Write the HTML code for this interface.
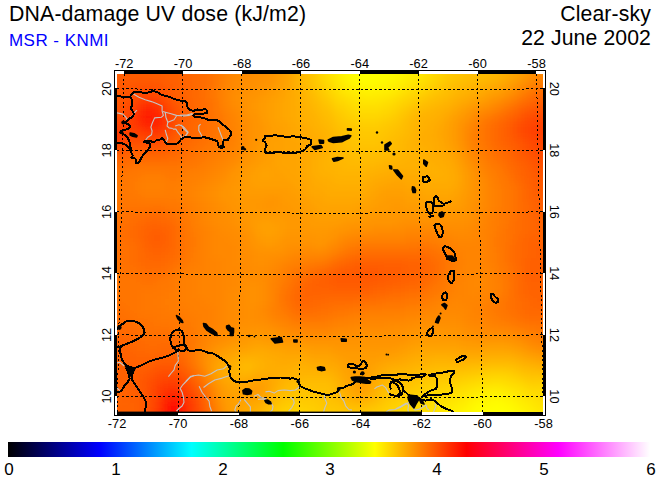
<!DOCTYPE html>
<html><head><meta charset="utf-8"><title>DNA-damage UV dose</title>
<style>
html,body{margin:0;padding:0;background:#fff;}
body{width:660px;height:480px;overflow:hidden;font-family:"Liberation Sans",sans-serif;}
svg{display:block;font-family:"Liberation Sans",sans-serif;}
</style></head><body>
<svg width="660" height="480" viewBox="0 0 660 480">
<rect width="660" height="480" fill="#fff"/>
<defs><clipPath id="mapclip"><rect x="117" y="74" width="426" height="338"/></clipPath></defs>
<g clip-path="url(#mapclip)">
<defs><filter id="blur" x="-5%" y="-5%" width="110%" height="110%"><feGaussianBlur stdDeviation="4.5"/></filter></defs><rect x="87" y="44" width="486" height="398" fill="#ff8800"/><g filter="url(#blur)" shape-rendering="crispEdges"><rect x="101" y="58" width="49" height="9" fill="#ff5c00"/><rect x="149" y="58" width="33" height="9" fill="#ff6000"/><rect x="181" y="58" width="9" height="9" fill="#ff6400"/><rect x="189" y="58" width="9" height="9" fill="#ff6800"/><rect x="197" y="58" width="9" height="9" fill="#ff6c00"/><rect x="205" y="58" width="9" height="9" fill="#ff7000"/><rect x="213" y="58" width="9" height="9" fill="#ff7800"/><rect x="221" y="58" width="9" height="9" fill="#ff8000"/><rect x="229" y="58" width="9" height="9" fill="#ff8800"/><rect x="237" y="58" width="17" height="9" fill="#ff8c00"/><rect x="253" y="58" width="17" height="9" fill="#ff9000"/><rect x="269" y="58" width="9" height="9" fill="#ff9400"/><rect x="277" y="58" width="9" height="9" fill="#ff9c00"/><rect x="285" y="58" width="9" height="9" fill="#ffa400"/><rect x="293" y="58" width="9" height="9" fill="#ffb000"/><rect x="301" y="58" width="9" height="9" fill="#ffbc00"/><rect x="309" y="58" width="9" height="9" fill="#ffc800"/><rect x="317" y="58" width="9" height="9" fill="#ffd400"/><rect x="325" y="58" width="9" height="9" fill="#ffe000"/><rect x="333" y="58" width="9" height="9" fill="#ffec00"/><rect x="341" y="58" width="9" height="9" fill="#fff800"/><rect x="349" y="58" width="9" height="9" fill="#fffc00"/><rect x="357" y="58" width="33" height="9" fill="#ffff00"/><rect x="389" y="58" width="9" height="9" fill="#fffc00"/><rect x="397" y="58" width="9" height="9" fill="#fff800"/><rect x="405" y="58" width="9" height="9" fill="#fff000"/><rect x="413" y="58" width="9" height="9" fill="#ffec00"/><rect x="421" y="58" width="9" height="9" fill="#ffe400"/><rect x="429" y="58" width="9" height="9" fill="#ffdc00"/><rect x="437" y="58" width="9" height="9" fill="#ffd400"/><rect x="445" y="58" width="9" height="9" fill="#ffcc00"/><rect x="453" y="58" width="9" height="9" fill="#ffc800"/><rect x="461" y="58" width="9" height="9" fill="#ffc400"/><rect x="469" y="58" width="17" height="9" fill="#ffc000"/><rect x="485" y="58" width="9" height="9" fill="#ffbc00"/><rect x="493" y="58" width="9" height="9" fill="#ffb800"/><rect x="501" y="58" width="9" height="9" fill="#ffb000"/><rect x="509" y="58" width="9" height="9" fill="#ffa800"/><rect x="517" y="58" width="9" height="9" fill="#ffa000"/><rect x="525" y="58" width="9" height="9" fill="#ff9800"/><rect x="533" y="58" width="9" height="9" fill="#ff8c00"/><rect x="541" y="58" width="25" height="9" fill="#ff8800"/><rect x="101" y="66" width="49" height="9" fill="#ff5c00"/><rect x="149" y="66" width="33" height="9" fill="#ff6000"/><rect x="181" y="66" width="9" height="9" fill="#ff6400"/><rect x="189" y="66" width="9" height="9" fill="#ff6800"/><rect x="197" y="66" width="9" height="9" fill="#ff6c00"/><rect x="205" y="66" width="9" height="9" fill="#ff7000"/><rect x="213" y="66" width="9" height="9" fill="#ff7800"/><rect x="221" y="66" width="9" height="9" fill="#ff8000"/><rect x="229" y="66" width="9" height="9" fill="#ff8800"/><rect x="237" y="66" width="17" height="9" fill="#ff8c00"/><rect x="253" y="66" width="17" height="9" fill="#ff9000"/><rect x="269" y="66" width="9" height="9" fill="#ff9400"/><rect x="277" y="66" width="9" height="9" fill="#ff9c00"/><rect x="285" y="66" width="9" height="9" fill="#ffa400"/><rect x="293" y="66" width="9" height="9" fill="#ffb000"/><rect x="301" y="66" width="9" height="9" fill="#ffbc00"/><rect x="309" y="66" width="9" height="9" fill="#ffc800"/><rect x="317" y="66" width="9" height="9" fill="#ffd400"/><rect x="325" y="66" width="9" height="9" fill="#ffe000"/><rect x="333" y="66" width="9" height="9" fill="#ffec00"/><rect x="341" y="66" width="9" height="9" fill="#fff800"/><rect x="349" y="66" width="9" height="9" fill="#fffc00"/><rect x="357" y="66" width="33" height="9" fill="#ffff00"/><rect x="389" y="66" width="9" height="9" fill="#fffc00"/><rect x="397" y="66" width="9" height="9" fill="#fff800"/><rect x="405" y="66" width="9" height="9" fill="#fff000"/><rect x="413" y="66" width="9" height="9" fill="#ffec00"/><rect x="421" y="66" width="9" height="9" fill="#ffe400"/><rect x="429" y="66" width="9" height="9" fill="#ffdc00"/><rect x="437" y="66" width="9" height="9" fill="#ffd400"/><rect x="445" y="66" width="9" height="9" fill="#ffcc00"/><rect x="453" y="66" width="9" height="9" fill="#ffc800"/><rect x="461" y="66" width="9" height="9" fill="#ffc400"/><rect x="469" y="66" width="17" height="9" fill="#ffc000"/><rect x="485" y="66" width="9" height="9" fill="#ffbc00"/><rect x="493" y="66" width="9" height="9" fill="#ffb800"/><rect x="501" y="66" width="9" height="9" fill="#ffb000"/><rect x="509" y="66" width="9" height="9" fill="#ffa800"/><rect x="517" y="66" width="9" height="9" fill="#ffa000"/><rect x="525" y="66" width="9" height="9" fill="#ff9800"/><rect x="533" y="66" width="9" height="9" fill="#ff8c00"/><rect x="541" y="66" width="25" height="9" fill="#ff8800"/><rect x="101" y="74" width="65" height="9" fill="#ff5c00"/><rect x="165" y="74" width="17" height="9" fill="#ff6000"/><rect x="181" y="74" width="9" height="9" fill="#ff6400"/><rect x="189" y="74" width="9" height="9" fill="#ff6800"/><rect x="197" y="74" width="9" height="9" fill="#ff6c00"/><rect x="205" y="74" width="9" height="9" fill="#ff7000"/><rect x="213" y="74" width="9" height="9" fill="#ff7800"/><rect x="221" y="74" width="9" height="9" fill="#ff8000"/><rect x="229" y="74" width="9" height="9" fill="#ff8800"/><rect x="237" y="74" width="17" height="9" fill="#ff8c00"/><rect x="253" y="74" width="17" height="9" fill="#ff9000"/><rect x="269" y="74" width="9" height="9" fill="#ff9400"/><rect x="277" y="74" width="9" height="9" fill="#ff9c00"/><rect x="285" y="74" width="9" height="9" fill="#ffa400"/><rect x="293" y="74" width="9" height="9" fill="#ffb000"/><rect x="301" y="74" width="9" height="9" fill="#ffbc00"/><rect x="309" y="74" width="9" height="9" fill="#ffc400"/><rect x="317" y="74" width="9" height="9" fill="#ffd400"/><rect x="325" y="74" width="9" height="9" fill="#ffe000"/><rect x="333" y="74" width="9" height="9" fill="#ffe800"/><rect x="341" y="74" width="9" height="9" fill="#fff400"/><rect x="349" y="74" width="9" height="9" fill="#fffc00"/><rect x="357" y="74" width="17" height="9" fill="#ffff00"/><rect x="373" y="74" width="17" height="9" fill="#fffc00"/><rect x="389" y="74" width="9" height="9" fill="#fff800"/><rect x="397" y="74" width="9" height="9" fill="#fff400"/><rect x="405" y="74" width="9" height="9" fill="#ffec00"/><rect x="413" y="74" width="9" height="9" fill="#ffe800"/><rect x="421" y="74" width="9" height="9" fill="#ffe000"/><rect x="429" y="74" width="9" height="9" fill="#ffd800"/><rect x="437" y="74" width="9" height="9" fill="#ffd000"/><rect x="445" y="74" width="9" height="9" fill="#ffc800"/><rect x="453" y="74" width="9" height="9" fill="#ffc400"/><rect x="461" y="74" width="9" height="9" fill="#ffc000"/><rect x="469" y="74" width="17" height="9" fill="#ffbc00"/><rect x="485" y="74" width="9" height="9" fill="#ffb800"/><rect x="493" y="74" width="9" height="9" fill="#ffb400"/><rect x="501" y="74" width="9" height="9" fill="#ffac00"/><rect x="509" y="74" width="9" height="9" fill="#ffa400"/><rect x="517" y="74" width="9" height="9" fill="#ff9c00"/><rect x="525" y="74" width="9" height="9" fill="#ff9000"/><rect x="533" y="74" width="9" height="9" fill="#ff8800"/><rect x="541" y="74" width="25" height="9" fill="#ff8000"/><rect x="101" y="82" width="33" height="9" fill="#ff5800"/><rect x="133" y="82" width="25" height="9" fill="#ff5400"/><rect x="157" y="82" width="9" height="9" fill="#ff5800"/><rect x="165" y="82" width="9" height="9" fill="#ff5c00"/><rect x="173" y="82" width="9" height="9" fill="#ff6000"/><rect x="181" y="82" width="9" height="9" fill="#ff6400"/><rect x="189" y="82" width="9" height="9" fill="#ff6800"/><rect x="197" y="82" width="9" height="9" fill="#ff6c00"/><rect x="205" y="82" width="9" height="9" fill="#ff7000"/><rect x="213" y="82" width="9" height="9" fill="#ff7800"/><rect x="221" y="82" width="9" height="9" fill="#ff8400"/><rect x="229" y="82" width="9" height="9" fill="#ff8800"/><rect x="237" y="82" width="9" height="9" fill="#ff8c00"/><rect x="245" y="82" width="17" height="9" fill="#ff9000"/><rect x="261" y="82" width="9" height="9" fill="#ff9400"/><rect x="269" y="82" width="9" height="9" fill="#ff9800"/><rect x="277" y="82" width="9" height="9" fill="#ffa000"/><rect x="285" y="82" width="9" height="9" fill="#ffa400"/><rect x="293" y="82" width="9" height="9" fill="#ffb000"/><rect x="301" y="82" width="9" height="9" fill="#ffb800"/><rect x="309" y="82" width="9" height="9" fill="#ffc400"/><rect x="317" y="82" width="9" height="9" fill="#ffcc00"/><rect x="325" y="82" width="9" height="9" fill="#ffd800"/><rect x="333" y="82" width="9" height="9" fill="#ffe400"/><rect x="341" y="82" width="9" height="9" fill="#ffec00"/><rect x="349" y="82" width="9" height="9" fill="#fff400"/><rect x="357" y="82" width="25" height="9" fill="#fff800"/><rect x="381" y="82" width="9" height="9" fill="#fff400"/><rect x="389" y="82" width="9" height="9" fill="#fff000"/><rect x="397" y="82" width="9" height="9" fill="#ffec00"/><rect x="405" y="82" width="9" height="9" fill="#ffe400"/><rect x="413" y="82" width="9" height="9" fill="#ffe000"/><rect x="421" y="82" width="9" height="9" fill="#ffd800"/><rect x="429" y="82" width="9" height="9" fill="#ffd000"/><rect x="437" y="82" width="9" height="9" fill="#ffc800"/><rect x="445" y="82" width="9" height="9" fill="#ffc000"/><rect x="453" y="82" width="9" height="9" fill="#ffbc00"/><rect x="461" y="82" width="9" height="9" fill="#ffb800"/><rect x="469" y="82" width="9" height="9" fill="#ffb400"/><rect x="477" y="82" width="9" height="9" fill="#ffb000"/><rect x="485" y="82" width="9" height="9" fill="#ffac00"/><rect x="493" y="82" width="9" height="9" fill="#ffa800"/><rect x="501" y="82" width="9" height="9" fill="#ffa000"/><rect x="509" y="82" width="9" height="9" fill="#ff9800"/><rect x="517" y="82" width="9" height="9" fill="#ff8c00"/><rect x="525" y="82" width="9" height="9" fill="#ff8400"/><rect x="533" y="82" width="9" height="9" fill="#ff7c00"/><rect x="541" y="82" width="25" height="9" fill="#ff7400"/><rect x="101" y="90" width="25" height="9" fill="#ff5800"/><rect x="125" y="90" width="9" height="9" fill="#ff5400"/><rect x="133" y="90" width="9" height="9" fill="#ff4c00"/><rect x="141" y="90" width="17" height="9" fill="#ff4800"/><rect x="157" y="90" width="9" height="9" fill="#ff5000"/><rect x="165" y="90" width="9" height="9" fill="#ff5800"/><rect x="173" y="90" width="9" height="9" fill="#ff6000"/><rect x="181" y="90" width="9" height="9" fill="#ff6400"/><rect x="189" y="90" width="9" height="9" fill="#ff6800"/><rect x="197" y="90" width="9" height="9" fill="#ff6c00"/><rect x="205" y="90" width="9" height="9" fill="#ff7400"/><rect x="213" y="90" width="9" height="9" fill="#ff7c00"/><rect x="221" y="90" width="9" height="9" fill="#ff8400"/><rect x="229" y="90" width="9" height="9" fill="#ff8c00"/><rect x="237" y="90" width="17" height="9" fill="#ff9000"/><rect x="253" y="90" width="9" height="9" fill="#ff9400"/><rect x="261" y="90" width="9" height="9" fill="#ff9800"/><rect x="269" y="90" width="9" height="9" fill="#ff9c00"/><rect x="277" y="90" width="9" height="9" fill="#ffa000"/><rect x="285" y="90" width="9" height="9" fill="#ffa800"/><rect x="293" y="90" width="9" height="9" fill="#ffac00"/><rect x="301" y="90" width="9" height="9" fill="#ffb400"/><rect x="309" y="90" width="9" height="9" fill="#ffbc00"/><rect x="317" y="90" width="9" height="9" fill="#ffc800"/><rect x="325" y="90" width="9" height="9" fill="#ffd000"/><rect x="333" y="90" width="9" height="9" fill="#ffdc00"/><rect x="341" y="90" width="9" height="9" fill="#ffe400"/><rect x="349" y="90" width="9" height="9" fill="#ffe800"/><rect x="357" y="90" width="9" height="9" fill="#ffec00"/><rect x="365" y="90" width="9" height="9" fill="#fff000"/><rect x="373" y="90" width="17" height="9" fill="#ffec00"/><rect x="389" y="90" width="9" height="9" fill="#ffe800"/><rect x="397" y="90" width="9" height="9" fill="#ffe000"/><rect x="405" y="90" width="9" height="9" fill="#ffd800"/><rect x="413" y="90" width="9" height="9" fill="#ffd400"/><rect x="421" y="90" width="9" height="9" fill="#ffcc00"/><rect x="429" y="90" width="9" height="9" fill="#ffc400"/><rect x="437" y="90" width="9" height="9" fill="#ffc000"/><rect x="445" y="90" width="9" height="9" fill="#ffbc00"/><rect x="453" y="90" width="9" height="9" fill="#ffb400"/><rect x="461" y="90" width="9" height="9" fill="#ffb000"/><rect x="469" y="90" width="9" height="9" fill="#ffac00"/><rect x="477" y="90" width="9" height="9" fill="#ffa800"/><rect x="485" y="90" width="9" height="9" fill="#ffa000"/><rect x="493" y="90" width="9" height="9" fill="#ff9c00"/><rect x="501" y="90" width="9" height="9" fill="#ff9400"/><rect x="509" y="90" width="9" height="9" fill="#ff8c00"/><rect x="517" y="90" width="9" height="9" fill="#ff8000"/><rect x="525" y="90" width="9" height="9" fill="#ff7400"/><rect x="533" y="90" width="9" height="9" fill="#ff6c00"/><rect x="541" y="90" width="25" height="9" fill="#ff6800"/><rect x="101" y="98" width="17" height="9" fill="#ff5800"/><rect x="117" y="98" width="9" height="9" fill="#ff5400"/><rect x="125" y="98" width="9" height="9" fill="#ff5000"/><rect x="133" y="98" width="9" height="9" fill="#ff4400"/><rect x="141" y="98" width="17" height="9" fill="#ff3800"/><rect x="157" y="98" width="9" height="9" fill="#ff4000"/><rect x="165" y="98" width="9" height="9" fill="#ff5000"/><rect x="173" y="98" width="9" height="9" fill="#ff5c00"/><rect x="181" y="98" width="9" height="9" fill="#ff6000"/><rect x="189" y="98" width="9" height="9" fill="#ff6800"/><rect x="197" y="98" width="9" height="9" fill="#ff6c00"/><rect x="205" y="98" width="9" height="9" fill="#ff7000"/><rect x="213" y="98" width="9" height="9" fill="#ff7800"/><rect x="221" y="98" width="9" height="9" fill="#ff8400"/><rect x="229" y="98" width="9" height="9" fill="#ff8c00"/><rect x="237" y="98" width="9" height="9" fill="#ff9000"/><rect x="245" y="98" width="9" height="9" fill="#ff9400"/><rect x="253" y="98" width="9" height="9" fill="#ff9800"/><rect x="261" y="98" width="9" height="9" fill="#ff9c00"/><rect x="269" y="98" width="9" height="9" fill="#ffa000"/><rect x="277" y="98" width="9" height="9" fill="#ffa400"/><rect x="285" y="98" width="9" height="9" fill="#ffa800"/><rect x="293" y="98" width="9" height="9" fill="#ffac00"/><rect x="301" y="98" width="9" height="9" fill="#ffb400"/><rect x="309" y="98" width="9" height="9" fill="#ffb800"/><rect x="317" y="98" width="9" height="9" fill="#ffc000"/><rect x="325" y="98" width="9" height="9" fill="#ffc800"/><rect x="333" y="98" width="9" height="9" fill="#ffd400"/><rect x="341" y="98" width="9" height="9" fill="#ffd800"/><rect x="349" y="98" width="9" height="9" fill="#ffe000"/><rect x="357" y="98" width="25" height="9" fill="#ffe400"/><rect x="381" y="98" width="9" height="9" fill="#ffe000"/><rect x="389" y="98" width="9" height="9" fill="#ffdc00"/><rect x="397" y="98" width="9" height="9" fill="#ffd400"/><rect x="405" y="98" width="9" height="9" fill="#ffd000"/><rect x="413" y="98" width="9" height="9" fill="#ffc800"/><rect x="421" y="98" width="9" height="9" fill="#ffc000"/><rect x="429" y="98" width="9" height="9" fill="#ffbc00"/><rect x="437" y="98" width="9" height="9" fill="#ffb800"/><rect x="445" y="98" width="9" height="9" fill="#ffb400"/><rect x="453" y="98" width="9" height="9" fill="#ffac00"/><rect x="461" y="98" width="9" height="9" fill="#ffa800"/><rect x="469" y="98" width="9" height="9" fill="#ffa000"/><rect x="477" y="98" width="9" height="9" fill="#ff9c00"/><rect x="485" y="98" width="9" height="9" fill="#ff9400"/><rect x="493" y="98" width="9" height="9" fill="#ff8c00"/><rect x="501" y="98" width="9" height="9" fill="#ff8400"/><rect x="509" y="98" width="9" height="9" fill="#ff7c00"/><rect x="517" y="98" width="9" height="9" fill="#ff7000"/><rect x="525" y="98" width="9" height="9" fill="#ff6800"/><rect x="533" y="98" width="9" height="9" fill="#ff6000"/><rect x="541" y="98" width="25" height="9" fill="#ff5c00"/><rect x="101" y="106" width="17" height="9" fill="#ff5400"/><rect x="117" y="106" width="9" height="9" fill="#ff5000"/><rect x="125" y="106" width="9" height="9" fill="#ff4800"/><rect x="133" y="106" width="9" height="9" fill="#ff3400"/><rect x="141" y="106" width="17" height="9" fill="#ff2400"/><rect x="157" y="106" width="9" height="9" fill="#ff3000"/><rect x="165" y="106" width="9" height="9" fill="#ff4400"/><rect x="173" y="106" width="9" height="9" fill="#ff5400"/><rect x="181" y="106" width="9" height="9" fill="#ff6000"/><rect x="189" y="106" width="9" height="9" fill="#ff6400"/><rect x="197" y="106" width="9" height="9" fill="#ff6c00"/><rect x="205" y="106" width="9" height="9" fill="#ff7000"/><rect x="213" y="106" width="9" height="9" fill="#ff7800"/><rect x="221" y="106" width="9" height="9" fill="#ff8000"/><rect x="229" y="106" width="9" height="9" fill="#ff8800"/><rect x="237" y="106" width="9" height="9" fill="#ff8c00"/><rect x="245" y="106" width="9" height="9" fill="#ff9400"/><rect x="253" y="106" width="9" height="9" fill="#ff9800"/><rect x="261" y="106" width="9" height="9" fill="#ff9c00"/><rect x="269" y="106" width="9" height="9" fill="#ffa000"/><rect x="277" y="106" width="9" height="9" fill="#ffa400"/><rect x="285" y="106" width="9" height="9" fill="#ffa800"/><rect x="293" y="106" width="9" height="9" fill="#ffac00"/><rect x="301" y="106" width="9" height="9" fill="#ffb000"/><rect x="309" y="106" width="9" height="9" fill="#ffb400"/><rect x="317" y="106" width="9" height="9" fill="#ffbc00"/><rect x="325" y="106" width="9" height="9" fill="#ffc000"/><rect x="333" y="106" width="9" height="9" fill="#ffcc00"/><rect x="341" y="106" width="9" height="9" fill="#ffd000"/><rect x="349" y="106" width="9" height="9" fill="#ffd800"/><rect x="357" y="106" width="25" height="9" fill="#ffdc00"/><rect x="381" y="106" width="9" height="9" fill="#ffd800"/><rect x="389" y="106" width="9" height="9" fill="#ffd400"/><rect x="397" y="106" width="9" height="9" fill="#ffcc00"/><rect x="405" y="106" width="9" height="9" fill="#ffc400"/><rect x="413" y="106" width="9" height="9" fill="#ffbc00"/><rect x="421" y="106" width="9" height="9" fill="#ffb800"/><rect x="429" y="106" width="9" height="9" fill="#ffb400"/><rect x="437" y="106" width="9" height="9" fill="#ffb000"/><rect x="445" y="106" width="9" height="9" fill="#ffac00"/><rect x="453" y="106" width="9" height="9" fill="#ffa400"/><rect x="461" y="106" width="9" height="9" fill="#ff9c00"/><rect x="469" y="106" width="9" height="9" fill="#ff9400"/><rect x="477" y="106" width="9" height="9" fill="#ff8c00"/><rect x="485" y="106" width="9" height="9" fill="#ff8800"/><rect x="493" y="106" width="9" height="9" fill="#ff8000"/><rect x="501" y="106" width="9" height="9" fill="#ff7400"/><rect x="509" y="106" width="9" height="9" fill="#ff6c00"/><rect x="517" y="106" width="9" height="9" fill="#ff6000"/><rect x="525" y="106" width="9" height="9" fill="#ff5800"/><rect x="533" y="106" width="9" height="9" fill="#ff5400"/><rect x="541" y="106" width="25" height="9" fill="#ff5000"/><rect x="101" y="114" width="25" height="9" fill="#ff4c00"/><rect x="125" y="114" width="9" height="9" fill="#ff4000"/><rect x="133" y="114" width="9" height="9" fill="#ff3000"/><rect x="141" y="114" width="9" height="9" fill="#ff1c00"/><rect x="149" y="114" width="9" height="9" fill="#ff1800"/><rect x="157" y="114" width="9" height="9" fill="#ff2800"/><rect x="165" y="114" width="9" height="9" fill="#ff4000"/><rect x="173" y="114" width="9" height="9" fill="#ff5000"/><rect x="181" y="114" width="9" height="9" fill="#ff6000"/><rect x="189" y="114" width="9" height="9" fill="#ff6400"/><rect x="197" y="114" width="9" height="9" fill="#ff6800"/><rect x="205" y="114" width="9" height="9" fill="#ff7000"/><rect x="213" y="114" width="9" height="9" fill="#ff7400"/><rect x="221" y="114" width="9" height="9" fill="#ff7c00"/><rect x="229" y="114" width="9" height="9" fill="#ff8400"/><rect x="237" y="114" width="9" height="9" fill="#ff8c00"/><rect x="245" y="114" width="9" height="9" fill="#ff9000"/><rect x="253" y="114" width="9" height="9" fill="#ff9400"/><rect x="261" y="114" width="9" height="9" fill="#ff9c00"/><rect x="269" y="114" width="9" height="9" fill="#ffa000"/><rect x="277" y="114" width="9" height="9" fill="#ffa400"/><rect x="285" y="114" width="9" height="9" fill="#ffa800"/><rect x="293" y="114" width="9" height="9" fill="#ffac00"/><rect x="301" y="114" width="17" height="9" fill="#ffb000"/><rect x="317" y="114" width="9" height="9" fill="#ffb800"/><rect x="325" y="114" width="9" height="9" fill="#ffbc00"/><rect x="333" y="114" width="9" height="9" fill="#ffc400"/><rect x="341" y="114" width="9" height="9" fill="#ffcc00"/><rect x="349" y="114" width="9" height="9" fill="#ffd000"/><rect x="357" y="114" width="25" height="9" fill="#ffd400"/><rect x="381" y="114" width="9" height="9" fill="#ffd000"/><rect x="389" y="114" width="9" height="9" fill="#ffcc00"/><rect x="397" y="114" width="9" height="9" fill="#ffc400"/><rect x="405" y="114" width="9" height="9" fill="#ffbc00"/><rect x="413" y="114" width="9" height="9" fill="#ffb400"/><rect x="421" y="114" width="17" height="9" fill="#ffb000"/><rect x="437" y="114" width="9" height="9" fill="#ffac00"/><rect x="445" y="114" width="9" height="9" fill="#ffa400"/><rect x="453" y="114" width="9" height="9" fill="#ff9c00"/><rect x="461" y="114" width="9" height="9" fill="#ff9400"/><rect x="469" y="114" width="9" height="9" fill="#ff8c00"/><rect x="477" y="114" width="9" height="9" fill="#ff8000"/><rect x="485" y="114" width="9" height="9" fill="#ff7800"/><rect x="493" y="114" width="9" height="9" fill="#ff7000"/><rect x="501" y="114" width="9" height="9" fill="#ff6800"/><rect x="509" y="114" width="9" height="9" fill="#ff6000"/><rect x="517" y="114" width="9" height="9" fill="#ff5400"/><rect x="525" y="114" width="9" height="9" fill="#ff4c00"/><rect x="533" y="114" width="9" height="9" fill="#ff4800"/><rect x="541" y="114" width="25" height="9" fill="#ff4400"/><rect x="101" y="122" width="33" height="9" fill="#ff4000"/><rect x="133" y="122" width="9" height="9" fill="#ff3400"/><rect x="141" y="122" width="9" height="9" fill="#ff2800"/><rect x="149" y="122" width="9" height="9" fill="#ff2400"/><rect x="157" y="122" width="9" height="9" fill="#ff2c00"/><rect x="165" y="122" width="9" height="9" fill="#ff4000"/><rect x="173" y="122" width="9" height="9" fill="#ff5400"/><rect x="181" y="122" width="9" height="9" fill="#ff6000"/><rect x="189" y="122" width="9" height="9" fill="#ff6800"/><rect x="197" y="122" width="9" height="9" fill="#ff6c00"/><rect x="205" y="122" width="9" height="9" fill="#ff7000"/><rect x="213" y="122" width="9" height="9" fill="#ff7400"/><rect x="221" y="122" width="9" height="9" fill="#ff7c00"/><rect x="229" y="122" width="9" height="9" fill="#ff8400"/><rect x="237" y="122" width="9" height="9" fill="#ff8800"/><rect x="245" y="122" width="9" height="9" fill="#ff9000"/><rect x="253" y="122" width="9" height="9" fill="#ff9400"/><rect x="261" y="122" width="9" height="9" fill="#ff9800"/><rect x="269" y="122" width="17" height="9" fill="#ffa000"/><rect x="285" y="122" width="9" height="9" fill="#ffa400"/><rect x="293" y="122" width="9" height="9" fill="#ffa800"/><rect x="301" y="122" width="9" height="9" fill="#ffac00"/><rect x="309" y="122" width="9" height="9" fill="#ffb000"/><rect x="317" y="122" width="9" height="9" fill="#ffb400"/><rect x="325" y="122" width="9" height="9" fill="#ffb800"/><rect x="333" y="122" width="9" height="9" fill="#ffc000"/><rect x="341" y="122" width="9" height="9" fill="#ffc400"/><rect x="349" y="122" width="9" height="9" fill="#ffc800"/><rect x="357" y="122" width="25" height="9" fill="#ffcc00"/><rect x="381" y="122" width="9" height="9" fill="#ffc800"/><rect x="389" y="122" width="9" height="9" fill="#ffc400"/><rect x="397" y="122" width="9" height="9" fill="#ffc000"/><rect x="405" y="122" width="9" height="9" fill="#ffb800"/><rect x="413" y="122" width="9" height="9" fill="#ffb400"/><rect x="421" y="122" width="9" height="9" fill="#ffb000"/><rect x="429" y="122" width="9" height="9" fill="#ffac00"/><rect x="437" y="122" width="9" height="9" fill="#ffa800"/><rect x="445" y="122" width="9" height="9" fill="#ffa000"/><rect x="453" y="122" width="9" height="9" fill="#ff9800"/><rect x="461" y="122" width="9" height="9" fill="#ff8c00"/><rect x="469" y="122" width="9" height="9" fill="#ff8400"/><rect x="477" y="122" width="9" height="9" fill="#ff7800"/><rect x="485" y="122" width="9" height="9" fill="#ff7000"/><rect x="493" y="122" width="9" height="9" fill="#ff6800"/><rect x="501" y="122" width="9" height="9" fill="#ff6000"/><rect x="509" y="122" width="9" height="9" fill="#ff5800"/><rect x="517" y="122" width="9" height="9" fill="#ff4c00"/><rect x="525" y="122" width="9" height="9" fill="#ff4400"/><rect x="533" y="122" width="33" height="9" fill="#ff4000"/><rect x="101" y="130" width="17" height="9" fill="#ff3800"/><rect x="117" y="130" width="9" height="9" fill="#ff3c00"/><rect x="125" y="130" width="17" height="9" fill="#ff4400"/><rect x="141" y="130" width="9" height="9" fill="#ff3c00"/><rect x="149" y="130" width="9" height="9" fill="#ff3800"/><rect x="157" y="130" width="9" height="9" fill="#ff3c00"/><rect x="165" y="130" width="9" height="9" fill="#ff4c00"/><rect x="173" y="130" width="9" height="9" fill="#ff5c00"/><rect x="181" y="130" width="9" height="9" fill="#ff6400"/><rect x="189" y="130" width="9" height="9" fill="#ff6800"/><rect x="197" y="130" width="9" height="9" fill="#ff6c00"/><rect x="205" y="130" width="9" height="9" fill="#ff7000"/><rect x="213" y="130" width="9" height="9" fill="#ff7400"/><rect x="221" y="130" width="9" height="9" fill="#ff7c00"/><rect x="229" y="130" width="9" height="9" fill="#ff8000"/><rect x="237" y="130" width="9" height="9" fill="#ff8800"/><rect x="245" y="130" width="9" height="9" fill="#ff9000"/><rect x="253" y="130" width="9" height="9" fill="#ff9400"/><rect x="261" y="130" width="9" height="9" fill="#ff9800"/><rect x="269" y="130" width="9" height="9" fill="#ff9c00"/><rect x="277" y="130" width="9" height="9" fill="#ffa000"/><rect x="285" y="130" width="9" height="9" fill="#ffa400"/><rect x="293" y="130" width="17" height="9" fill="#ffa800"/><rect x="309" y="130" width="9" height="9" fill="#ffac00"/><rect x="317" y="130" width="9" height="9" fill="#ffb000"/><rect x="325" y="130" width="9" height="9" fill="#ffb400"/><rect x="333" y="130" width="9" height="9" fill="#ffbc00"/><rect x="341" y="130" width="9" height="9" fill="#ffc000"/><rect x="349" y="130" width="9" height="9" fill="#ffc400"/><rect x="357" y="130" width="25" height="9" fill="#ffc800"/><rect x="381" y="130" width="9" height="9" fill="#ffc400"/><rect x="389" y="130" width="9" height="9" fill="#ffc000"/><rect x="397" y="130" width="9" height="9" fill="#ffbc00"/><rect x="405" y="130" width="9" height="9" fill="#ffb800"/><rect x="413" y="130" width="9" height="9" fill="#ffb000"/><rect x="421" y="130" width="17" height="9" fill="#ffac00"/><rect x="437" y="130" width="9" height="9" fill="#ffa400"/><rect x="445" y="130" width="9" height="9" fill="#ffa000"/><rect x="453" y="130" width="9" height="9" fill="#ff9800"/><rect x="461" y="130" width="9" height="9" fill="#ff8c00"/><rect x="469" y="130" width="9" height="9" fill="#ff8000"/><rect x="477" y="130" width="9" height="9" fill="#ff7800"/><rect x="485" y="130" width="9" height="9" fill="#ff7000"/><rect x="493" y="130" width="9" height="9" fill="#ff6800"/><rect x="501" y="130" width="9" height="9" fill="#ff6000"/><rect x="509" y="130" width="9" height="9" fill="#ff5800"/><rect x="517" y="130" width="9" height="9" fill="#ff4c00"/><rect x="525" y="130" width="9" height="9" fill="#ff4400"/><rect x="533" y="130" width="33" height="9" fill="#ff4000"/><rect x="101" y="138" width="17" height="9" fill="#ff3800"/><rect x="117" y="138" width="9" height="9" fill="#ff3c00"/><rect x="125" y="138" width="9" height="9" fill="#ff4c00"/><rect x="133" y="138" width="9" height="9" fill="#ff5000"/><rect x="141" y="138" width="17" height="9" fill="#ff4c00"/><rect x="157" y="138" width="9" height="9" fill="#ff5000"/><rect x="165" y="138" width="9" height="9" fill="#ff5800"/><rect x="173" y="138" width="9" height="9" fill="#ff6000"/><rect x="181" y="138" width="9" height="9" fill="#ff6800"/><rect x="189" y="138" width="9" height="9" fill="#ff6c00"/><rect x="197" y="138" width="9" height="9" fill="#ff7000"/><rect x="205" y="138" width="9" height="9" fill="#ff7400"/><rect x="213" y="138" width="9" height="9" fill="#ff7800"/><rect x="221" y="138" width="9" height="9" fill="#ff7c00"/><rect x="229" y="138" width="9" height="9" fill="#ff8000"/><rect x="237" y="138" width="9" height="9" fill="#ff8800"/><rect x="245" y="138" width="9" height="9" fill="#ff9000"/><rect x="253" y="138" width="9" height="9" fill="#ff9400"/><rect x="261" y="138" width="9" height="9" fill="#ff9c00"/><rect x="269" y="138" width="17" height="9" fill="#ffa000"/><rect x="285" y="138" width="17" height="9" fill="#ffa400"/><rect x="301" y="138" width="9" height="9" fill="#ffa800"/><rect x="309" y="138" width="17" height="9" fill="#ffac00"/><rect x="325" y="138" width="9" height="9" fill="#ffb400"/><rect x="333" y="138" width="9" height="9" fill="#ffb800"/><rect x="341" y="138" width="9" height="9" fill="#ffc000"/><rect x="349" y="138" width="33" height="9" fill="#ffc400"/><rect x="381" y="138" width="9" height="9" fill="#ffc000"/><rect x="389" y="138" width="9" height="9" fill="#ffbc00"/><rect x="397" y="138" width="9" height="9" fill="#ffb800"/><rect x="405" y="138" width="9" height="9" fill="#ffb400"/><rect x="413" y="138" width="9" height="9" fill="#ffb000"/><rect x="421" y="138" width="17" height="9" fill="#ffac00"/><rect x="437" y="138" width="9" height="9" fill="#ffa800"/><rect x="445" y="138" width="9" height="9" fill="#ffa000"/><rect x="453" y="138" width="9" height="9" fill="#ff9800"/><rect x="461" y="138" width="9" height="9" fill="#ff8c00"/><rect x="469" y="138" width="9" height="9" fill="#ff8000"/><rect x="477" y="138" width="9" height="9" fill="#ff7800"/><rect x="485" y="138" width="9" height="9" fill="#ff7000"/><rect x="493" y="138" width="9" height="9" fill="#ff6800"/><rect x="501" y="138" width="9" height="9" fill="#ff6000"/><rect x="509" y="138" width="9" height="9" fill="#ff5c00"/><rect x="517" y="138" width="9" height="9" fill="#ff5400"/><rect x="525" y="138" width="9" height="9" fill="#ff4c00"/><rect x="533" y="138" width="33" height="9" fill="#ff4400"/><rect x="101" y="146" width="17" height="9" fill="#ff5000"/><rect x="117" y="146" width="9" height="9" fill="#ff5400"/><rect x="125" y="146" width="41" height="9" fill="#ff5c00"/><rect x="165" y="146" width="9" height="9" fill="#ff6000"/><rect x="173" y="146" width="9" height="9" fill="#ff6800"/><rect x="181" y="146" width="9" height="9" fill="#ff6c00"/><rect x="189" y="146" width="9" height="9" fill="#ff7000"/><rect x="197" y="146" width="9" height="9" fill="#ff7400"/><rect x="205" y="146" width="9" height="9" fill="#ff7800"/><rect x="213" y="146" width="9" height="9" fill="#ff7c00"/><rect x="221" y="146" width="9" height="9" fill="#ff8000"/><rect x="229" y="146" width="9" height="9" fill="#ff8400"/><rect x="237" y="146" width="9" height="9" fill="#ff8800"/><rect x="245" y="146" width="9" height="9" fill="#ff9000"/><rect x="253" y="146" width="9" height="9" fill="#ff9800"/><rect x="261" y="146" width="9" height="9" fill="#ff9c00"/><rect x="269" y="146" width="17" height="9" fill="#ffa000"/><rect x="285" y="146" width="17" height="9" fill="#ffa400"/><rect x="301" y="146" width="17" height="9" fill="#ffa800"/><rect x="317" y="146" width="9" height="9" fill="#ffac00"/><rect x="325" y="146" width="9" height="9" fill="#ffb000"/><rect x="333" y="146" width="9" height="9" fill="#ffb800"/><rect x="341" y="146" width="9" height="9" fill="#ffbc00"/><rect x="349" y="146" width="33" height="9" fill="#ffc000"/><rect x="381" y="146" width="17" height="9" fill="#ffbc00"/><rect x="397" y="146" width="9" height="9" fill="#ffb800"/><rect x="405" y="146" width="9" height="9" fill="#ffb400"/><rect x="413" y="146" width="17" height="9" fill="#ffb000"/><rect x="429" y="146" width="9" height="9" fill="#ffac00"/><rect x="437" y="146" width="9" height="9" fill="#ffa800"/><rect x="445" y="146" width="9" height="9" fill="#ffa400"/><rect x="453" y="146" width="9" height="9" fill="#ff9c00"/><rect x="461" y="146" width="9" height="9" fill="#ff9000"/><rect x="469" y="146" width="9" height="9" fill="#ff8400"/><rect x="477" y="146" width="9" height="9" fill="#ff7c00"/><rect x="485" y="146" width="9" height="9" fill="#ff7400"/><rect x="493" y="146" width="9" height="9" fill="#ff6c00"/><rect x="501" y="146" width="9" height="9" fill="#ff6800"/><rect x="509" y="146" width="9" height="9" fill="#ff6000"/><rect x="517" y="146" width="9" height="9" fill="#ff5800"/><rect x="525" y="146" width="9" height="9" fill="#ff5000"/><rect x="533" y="146" width="9" height="9" fill="#ff4c00"/><rect x="541" y="146" width="25" height="9" fill="#ff4800"/><rect x="101" y="154" width="17" height="9" fill="#ff6000"/><rect x="117" y="154" width="9" height="9" fill="#ff6400"/><rect x="125" y="154" width="41" height="9" fill="#ff6800"/><rect x="165" y="154" width="17" height="9" fill="#ff6c00"/><rect x="181" y="154" width="9" height="9" fill="#ff7000"/><rect x="189" y="154" width="9" height="9" fill="#ff7400"/><rect x="197" y="154" width="9" height="9" fill="#ff7800"/><rect x="205" y="154" width="9" height="9" fill="#ff7c00"/><rect x="213" y="154" width="9" height="9" fill="#ff8000"/><rect x="221" y="154" width="9" height="9" fill="#ff8400"/><rect x="229" y="154" width="9" height="9" fill="#ff8800"/><rect x="237" y="154" width="9" height="9" fill="#ff8c00"/><rect x="245" y="154" width="9" height="9" fill="#ff9400"/><rect x="253" y="154" width="9" height="9" fill="#ff9800"/><rect x="261" y="154" width="9" height="9" fill="#ff9c00"/><rect x="269" y="154" width="9" height="9" fill="#ffa000"/><rect x="277" y="154" width="25" height="9" fill="#ffa400"/><rect x="301" y="154" width="9" height="9" fill="#ffa800"/><rect x="309" y="154" width="9" height="9" fill="#ffac00"/><rect x="317" y="154" width="9" height="9" fill="#ffb000"/><rect x="325" y="154" width="9" height="9" fill="#ffb400"/><rect x="333" y="154" width="17" height="9" fill="#ffb800"/><rect x="349" y="154" width="33" height="9" fill="#ffbc00"/><rect x="381" y="154" width="17" height="9" fill="#ffb800"/><rect x="397" y="154" width="9" height="9" fill="#ffb400"/><rect x="405" y="154" width="25" height="9" fill="#ffb000"/><rect x="429" y="154" width="17" height="9" fill="#ffac00"/><rect x="445" y="154" width="9" height="9" fill="#ffa800"/><rect x="453" y="154" width="9" height="9" fill="#ffa000"/><rect x="461" y="154" width="9" height="9" fill="#ff9400"/><rect x="469" y="154" width="9" height="9" fill="#ff8800"/><rect x="477" y="154" width="9" height="9" fill="#ff8000"/><rect x="485" y="154" width="9" height="9" fill="#ff7800"/><rect x="493" y="154" width="9" height="9" fill="#ff7000"/><rect x="501" y="154" width="9" height="9" fill="#ff6c00"/><rect x="509" y="154" width="9" height="9" fill="#ff6400"/><rect x="517" y="154" width="9" height="9" fill="#ff5c00"/><rect x="525" y="154" width="9" height="9" fill="#ff5800"/><rect x="533" y="154" width="9" height="9" fill="#ff5000"/><rect x="541" y="154" width="25" height="9" fill="#ff4c00"/><rect x="101" y="162" width="25" height="9" fill="#ff6c00"/><rect x="125" y="162" width="9" height="9" fill="#ff7000"/><rect x="133" y="162" width="49" height="9" fill="#ff7400"/><rect x="181" y="162" width="17" height="9" fill="#ff7800"/><rect x="197" y="162" width="9" height="9" fill="#ff7c00"/><rect x="205" y="162" width="9" height="9" fill="#ff8000"/><rect x="213" y="162" width="9" height="9" fill="#ff8400"/><rect x="221" y="162" width="9" height="9" fill="#ff8800"/><rect x="229" y="162" width="9" height="9" fill="#ff8c00"/><rect x="237" y="162" width="9" height="9" fill="#ff9400"/><rect x="245" y="162" width="9" height="9" fill="#ff9800"/><rect x="253" y="162" width="9" height="9" fill="#ff9c00"/><rect x="261" y="162" width="17" height="9" fill="#ffa000"/><rect x="277" y="162" width="25" height="9" fill="#ffa400"/><rect x="301" y="162" width="9" height="9" fill="#ffa800"/><rect x="309" y="162" width="9" height="9" fill="#ffac00"/><rect x="317" y="162" width="9" height="9" fill="#ffb000"/><rect x="325" y="162" width="17" height="9" fill="#ffb400"/><rect x="341" y="162" width="33" height="9" fill="#ffb800"/><rect x="373" y="162" width="17" height="9" fill="#ffb400"/><rect x="389" y="162" width="49" height="9" fill="#ffb000"/><rect x="437" y="162" width="17" height="9" fill="#ffac00"/><rect x="453" y="162" width="9" height="9" fill="#ffa400"/><rect x="461" y="162" width="9" height="9" fill="#ff9800"/><rect x="469" y="162" width="9" height="9" fill="#ff9000"/><rect x="477" y="162" width="9" height="9" fill="#ff8400"/><rect x="485" y="162" width="9" height="9" fill="#ff7c00"/><rect x="493" y="162" width="9" height="9" fill="#ff7800"/><rect x="501" y="162" width="9" height="9" fill="#ff7000"/><rect x="509" y="162" width="9" height="9" fill="#ff6800"/><rect x="517" y="162" width="9" height="9" fill="#ff6400"/><rect x="525" y="162" width="9" height="9" fill="#ff5c00"/><rect x="533" y="162" width="9" height="9" fill="#ff5400"/><rect x="541" y="162" width="25" height="9" fill="#ff5000"/><rect x="101" y="170" width="17" height="9" fill="#ff7000"/><rect x="117" y="170" width="9" height="9" fill="#ff7400"/><rect x="125" y="170" width="17" height="9" fill="#ff7800"/><rect x="141" y="170" width="25" height="9" fill="#ff7c00"/><rect x="165" y="170" width="17" height="9" fill="#ff7800"/><rect x="181" y="170" width="9" height="9" fill="#ff7c00"/><rect x="189" y="170" width="17" height="9" fill="#ff8000"/><rect x="205" y="170" width="9" height="9" fill="#ff8400"/><rect x="213" y="170" width="9" height="9" fill="#ff8800"/><rect x="221" y="170" width="9" height="9" fill="#ff8c00"/><rect x="229" y="170" width="9" height="9" fill="#ff9400"/><rect x="237" y="170" width="9" height="9" fill="#ff9800"/><rect x="245" y="170" width="9" height="9" fill="#ff9c00"/><rect x="253" y="170" width="9" height="9" fill="#ffa000"/><rect x="261" y="170" width="9" height="9" fill="#ffa400"/><rect x="269" y="170" width="17" height="9" fill="#ffa000"/><rect x="285" y="170" width="17" height="9" fill="#ffa400"/><rect x="301" y="170" width="9" height="9" fill="#ffa800"/><rect x="309" y="170" width="9" height="9" fill="#ffac00"/><rect x="317" y="170" width="17" height="9" fill="#ffb000"/><rect x="333" y="170" width="33" height="9" fill="#ffb400"/><rect x="365" y="170" width="17" height="9" fill="#ffb000"/><rect x="381" y="170" width="49" height="9" fill="#ffac00"/><rect x="429" y="170" width="17" height="9" fill="#ffb000"/><rect x="445" y="170" width="9" height="9" fill="#ffac00"/><rect x="453" y="170" width="9" height="9" fill="#ffa800"/><rect x="461" y="170" width="9" height="9" fill="#ff9c00"/><rect x="469" y="170" width="9" height="9" fill="#ff9400"/><rect x="477" y="170" width="9" height="9" fill="#ff8800"/><rect x="485" y="170" width="9" height="9" fill="#ff8000"/><rect x="493" y="170" width="9" height="9" fill="#ff7c00"/><rect x="501" y="170" width="9" height="9" fill="#ff7400"/><rect x="509" y="170" width="9" height="9" fill="#ff6c00"/><rect x="517" y="170" width="9" height="9" fill="#ff6400"/><rect x="525" y="170" width="9" height="9" fill="#ff6000"/><rect x="533" y="170" width="9" height="9" fill="#ff5800"/><rect x="541" y="170" width="25" height="9" fill="#ff5400"/><rect x="101" y="178" width="25" height="9" fill="#ff7400"/><rect x="125" y="178" width="9" height="9" fill="#ff7800"/><rect x="133" y="178" width="9" height="9" fill="#ff7c00"/><rect x="141" y="178" width="25" height="9" fill="#ff8000"/><rect x="165" y="178" width="17" height="9" fill="#ff7c00"/><rect x="181" y="178" width="17" height="9" fill="#ff8000"/><rect x="197" y="178" width="9" height="9" fill="#ff8400"/><rect x="205" y="178" width="9" height="9" fill="#ff8800"/><rect x="213" y="178" width="9" height="9" fill="#ff8c00"/><rect x="221" y="178" width="9" height="9" fill="#ff9000"/><rect x="229" y="178" width="9" height="9" fill="#ff9400"/><rect x="237" y="178" width="9" height="9" fill="#ff9800"/><rect x="245" y="178" width="9" height="9" fill="#ff9c00"/><rect x="253" y="178" width="41" height="9" fill="#ffa000"/><rect x="293" y="178" width="17" height="9" fill="#ffa400"/><rect x="309" y="178" width="9" height="9" fill="#ffa800"/><rect x="317" y="178" width="17" height="9" fill="#ffac00"/><rect x="333" y="178" width="33" height="9" fill="#ffb000"/><rect x="365" y="178" width="9" height="9" fill="#ffac00"/><rect x="373" y="178" width="17" height="9" fill="#ffa800"/><rect x="389" y="178" width="17" height="9" fill="#ffa400"/><rect x="405" y="178" width="17" height="9" fill="#ffa800"/><rect x="421" y="178" width="33" height="9" fill="#ffac00"/><rect x="453" y="178" width="9" height="9" fill="#ffa800"/><rect x="461" y="178" width="9" height="9" fill="#ff9c00"/><rect x="469" y="178" width="9" height="9" fill="#ff9400"/><rect x="477" y="178" width="9" height="9" fill="#ff8c00"/><rect x="485" y="178" width="9" height="9" fill="#ff8400"/><rect x="493" y="178" width="9" height="9" fill="#ff7c00"/><rect x="501" y="178" width="9" height="9" fill="#ff7800"/><rect x="509" y="178" width="9" height="9" fill="#ff7000"/><rect x="517" y="178" width="9" height="9" fill="#ff6800"/><rect x="525" y="178" width="9" height="9" fill="#ff6000"/><rect x="533" y="178" width="9" height="9" fill="#ff5c00"/><rect x="541" y="178" width="25" height="9" fill="#ff5800"/><rect x="101" y="186" width="17" height="9" fill="#ff7400"/><rect x="117" y="186" width="17" height="9" fill="#ff7800"/><rect x="133" y="186" width="9" height="9" fill="#ff7c00"/><rect x="141" y="186" width="25" height="9" fill="#ff8000"/><rect x="165" y="186" width="9" height="9" fill="#ff7c00"/><rect x="173" y="186" width="17" height="9" fill="#ff8000"/><rect x="189" y="186" width="9" height="9" fill="#ff8400"/><rect x="197" y="186" width="9" height="9" fill="#ff8800"/><rect x="205" y="186" width="9" height="9" fill="#ff8c00"/><rect x="213" y="186" width="9" height="9" fill="#ff9000"/><rect x="221" y="186" width="9" height="9" fill="#ff9400"/><rect x="229" y="186" width="17" height="9" fill="#ff9800"/><rect x="245" y="186" width="49" height="9" fill="#ff9c00"/><rect x="293" y="186" width="9" height="9" fill="#ffa000"/><rect x="301" y="186" width="9" height="9" fill="#ffa400"/><rect x="309" y="186" width="17" height="9" fill="#ffa800"/><rect x="325" y="186" width="41" height="9" fill="#ffac00"/><rect x="365" y="186" width="9" height="9" fill="#ffa800"/><rect x="373" y="186" width="9" height="9" fill="#ffa400"/><rect x="381" y="186" width="25" height="9" fill="#ffa000"/><rect x="405" y="186" width="17" height="9" fill="#ffa400"/><rect x="421" y="186" width="33" height="9" fill="#ffa800"/><rect x="453" y="186" width="9" height="9" fill="#ffa400"/><rect x="461" y="186" width="9" height="9" fill="#ff9c00"/><rect x="469" y="186" width="9" height="9" fill="#ff9400"/><rect x="477" y="186" width="9" height="9" fill="#ff8c00"/><rect x="485" y="186" width="9" height="9" fill="#ff8400"/><rect x="493" y="186" width="9" height="9" fill="#ff8000"/><rect x="501" y="186" width="9" height="9" fill="#ff7800"/><rect x="509" y="186" width="9" height="9" fill="#ff7400"/><rect x="517" y="186" width="9" height="9" fill="#ff6c00"/><rect x="525" y="186" width="9" height="9" fill="#ff6400"/><rect x="533" y="186" width="9" height="9" fill="#ff5c00"/><rect x="541" y="186" width="25" height="9" fill="#ff5800"/><rect x="101" y="194" width="25" height="9" fill="#ff7400"/><rect x="125" y="194" width="17" height="9" fill="#ff7800"/><rect x="141" y="194" width="41" height="9" fill="#ff7c00"/><rect x="181" y="194" width="9" height="9" fill="#ff8000"/><rect x="189" y="194" width="9" height="9" fill="#ff8400"/><rect x="197" y="194" width="9" height="9" fill="#ff8800"/><rect x="205" y="194" width="9" height="9" fill="#ff8c00"/><rect x="213" y="194" width="9" height="9" fill="#ff9000"/><rect x="221" y="194" width="17" height="9" fill="#ff9400"/><rect x="237" y="194" width="33" height="9" fill="#ff9800"/><rect x="269" y="194" width="9" height="9" fill="#ff9400"/><rect x="277" y="194" width="9" height="9" fill="#ff9800"/><rect x="285" y="194" width="17" height="9" fill="#ff9c00"/><rect x="301" y="194" width="9" height="9" fill="#ffa000"/><rect x="309" y="194" width="17" height="9" fill="#ffa400"/><rect x="325" y="194" width="41" height="9" fill="#ffa800"/><rect x="365" y="194" width="9" height="9" fill="#ffa400"/><rect x="373" y="194" width="9" height="9" fill="#ffa000"/><rect x="381" y="194" width="25" height="9" fill="#ff9c00"/><rect x="405" y="194" width="17" height="9" fill="#ffa000"/><rect x="421" y="194" width="33" height="9" fill="#ffa400"/><rect x="453" y="194" width="9" height="9" fill="#ffa000"/><rect x="461" y="194" width="9" height="9" fill="#ff9800"/><rect x="469" y="194" width="9" height="9" fill="#ff9400"/><rect x="477" y="194" width="9" height="9" fill="#ff8c00"/><rect x="485" y="194" width="9" height="9" fill="#ff8400"/><rect x="493" y="194" width="9" height="9" fill="#ff8000"/><rect x="501" y="194" width="9" height="9" fill="#ff7800"/><rect x="509" y="194" width="9" height="9" fill="#ff7400"/><rect x="517" y="194" width="9" height="9" fill="#ff6c00"/><rect x="525" y="194" width="9" height="9" fill="#ff6400"/><rect x="533" y="194" width="9" height="9" fill="#ff6000"/><rect x="541" y="194" width="25" height="9" fill="#ff5c00"/><rect x="101" y="202" width="65" height="9" fill="#ff7400"/><rect x="165" y="202" width="17" height="9" fill="#ff7800"/><rect x="181" y="202" width="9" height="9" fill="#ff7c00"/><rect x="189" y="202" width="9" height="9" fill="#ff8000"/><rect x="197" y="202" width="9" height="9" fill="#ff8400"/><rect x="205" y="202" width="9" height="9" fill="#ff8800"/><rect x="213" y="202" width="9" height="9" fill="#ff8c00"/><rect x="221" y="202" width="9" height="9" fill="#ff9000"/><rect x="229" y="202" width="9" height="9" fill="#ff9400"/><rect x="237" y="202" width="25" height="9" fill="#ff9800"/><rect x="261" y="202" width="17" height="9" fill="#ff9400"/><rect x="277" y="202" width="17" height="9" fill="#ff9800"/><rect x="293" y="202" width="17" height="9" fill="#ff9c00"/><rect x="309" y="202" width="9" height="9" fill="#ffa000"/><rect x="317" y="202" width="41" height="9" fill="#ffa400"/><rect x="357" y="202" width="17" height="9" fill="#ffa000"/><rect x="373" y="202" width="17" height="9" fill="#ff9c00"/><rect x="389" y="202" width="17" height="9" fill="#ff9800"/><rect x="405" y="202" width="33" height="9" fill="#ff9c00"/><rect x="437" y="202" width="9" height="9" fill="#ffa000"/><rect x="445" y="202" width="17" height="9" fill="#ff9c00"/><rect x="461" y="202" width="9" height="9" fill="#ff9800"/><rect x="469" y="202" width="9" height="9" fill="#ff9000"/><rect x="477" y="202" width="9" height="9" fill="#ff8c00"/><rect x="485" y="202" width="9" height="9" fill="#ff8400"/><rect x="493" y="202" width="9" height="9" fill="#ff8000"/><rect x="501" y="202" width="9" height="9" fill="#ff7800"/><rect x="509" y="202" width="9" height="9" fill="#ff7400"/><rect x="517" y="202" width="9" height="9" fill="#ff6c00"/><rect x="525" y="202" width="9" height="9" fill="#ff6800"/><rect x="533" y="202" width="9" height="9" fill="#ff6000"/><rect x="541" y="202" width="25" height="9" fill="#ff5c00"/><rect x="101" y="210" width="25" height="9" fill="#ff7400"/><rect x="125" y="210" width="25" height="9" fill="#ff7000"/><rect x="149" y="210" width="17" height="9" fill="#ff6c00"/><rect x="165" y="210" width="9" height="9" fill="#ff7000"/><rect x="173" y="210" width="9" height="9" fill="#ff7400"/><rect x="181" y="210" width="9" height="9" fill="#ff7800"/><rect x="189" y="210" width="9" height="9" fill="#ff8000"/><rect x="197" y="210" width="9" height="9" fill="#ff8400"/><rect x="205" y="210" width="9" height="9" fill="#ff8800"/><rect x="213" y="210" width="9" height="9" fill="#ff8c00"/><rect x="221" y="210" width="17" height="9" fill="#ff9000"/><rect x="237" y="210" width="9" height="9" fill="#ff9400"/><rect x="245" y="210" width="57" height="9" fill="#ff9800"/><rect x="301" y="210" width="17" height="9" fill="#ff9c00"/><rect x="317" y="210" width="41" height="9" fill="#ffa000"/><rect x="357" y="210" width="17" height="9" fill="#ff9c00"/><rect x="373" y="210" width="33" height="9" fill="#ff9800"/><rect x="405" y="210" width="9" height="9" fill="#ff9400"/><rect x="413" y="210" width="41" height="9" fill="#ff9800"/><rect x="453" y="210" width="17" height="9" fill="#ff9400"/><rect x="469" y="210" width="9" height="9" fill="#ff9000"/><rect x="477" y="210" width="9" height="9" fill="#ff8800"/><rect x="485" y="210" width="9" height="9" fill="#ff8400"/><rect x="493" y="210" width="9" height="9" fill="#ff7c00"/><rect x="501" y="210" width="9" height="9" fill="#ff7800"/><rect x="509" y="210" width="9" height="9" fill="#ff7400"/><rect x="517" y="210" width="9" height="9" fill="#ff6c00"/><rect x="525" y="210" width="9" height="9" fill="#ff6800"/><rect x="533" y="210" width="33" height="9" fill="#ff6000"/><rect x="101" y="218" width="33" height="9" fill="#ff7000"/><rect x="133" y="218" width="9" height="9" fill="#ff6c00"/><rect x="141" y="218" width="9" height="9" fill="#ff6800"/><rect x="149" y="218" width="9" height="9" fill="#ff6400"/><rect x="157" y="218" width="17" height="9" fill="#ff6800"/><rect x="173" y="218" width="9" height="9" fill="#ff7000"/><rect x="181" y="218" width="9" height="9" fill="#ff7800"/><rect x="189" y="218" width="9" height="9" fill="#ff7c00"/><rect x="197" y="218" width="9" height="9" fill="#ff8400"/><rect x="205" y="218" width="9" height="9" fill="#ff8800"/><rect x="213" y="218" width="17" height="9" fill="#ff8c00"/><rect x="229" y="218" width="9" height="9" fill="#ff9000"/><rect x="237" y="218" width="9" height="9" fill="#ff9400"/><rect x="245" y="218" width="9" height="9" fill="#ff9800"/><rect x="253" y="218" width="9" height="9" fill="#ff9c00"/><rect x="261" y="218" width="9" height="9" fill="#ffa000"/><rect x="269" y="218" width="17" height="9" fill="#ff9c00"/><rect x="285" y="218" width="25" height="9" fill="#ff9800"/><rect x="309" y="218" width="33" height="9" fill="#ff9c00"/><rect x="341" y="218" width="25" height="9" fill="#ff9800"/><rect x="365" y="218" width="33" height="9" fill="#ff9400"/><rect x="397" y="218" width="73" height="9" fill="#ff9000"/><rect x="469" y="218" width="9" height="9" fill="#ff8c00"/><rect x="477" y="218" width="9" height="9" fill="#ff8800"/><rect x="485" y="218" width="9" height="9" fill="#ff8000"/><rect x="493" y="218" width="9" height="9" fill="#ff7c00"/><rect x="501" y="218" width="9" height="9" fill="#ff7800"/><rect x="509" y="218" width="9" height="9" fill="#ff7000"/><rect x="517" y="218" width="9" height="9" fill="#ff6c00"/><rect x="525" y="218" width="9" height="9" fill="#ff6800"/><rect x="533" y="218" width="9" height="9" fill="#ff6400"/><rect x="541" y="218" width="25" height="9" fill="#ff6000"/><rect x="101" y="226" width="25" height="9" fill="#ff7000"/><rect x="125" y="226" width="9" height="9" fill="#ff6c00"/><rect x="133" y="226" width="9" height="9" fill="#ff6800"/><rect x="141" y="226" width="9" height="9" fill="#ff6400"/><rect x="149" y="226" width="17" height="9" fill="#ff6000"/><rect x="165" y="226" width="9" height="9" fill="#ff6400"/><rect x="173" y="226" width="9" height="9" fill="#ff6c00"/><rect x="181" y="226" width="9" height="9" fill="#ff7400"/><rect x="189" y="226" width="9" height="9" fill="#ff7c00"/><rect x="197" y="226" width="9" height="9" fill="#ff8000"/><rect x="205" y="226" width="9" height="9" fill="#ff8400"/><rect x="213" y="226" width="9" height="9" fill="#ff8800"/><rect x="221" y="226" width="17" height="9" fill="#ff8c00"/><rect x="237" y="226" width="9" height="9" fill="#ff9000"/><rect x="245" y="226" width="9" height="9" fill="#ff9400"/><rect x="253" y="226" width="9" height="9" fill="#ff9c00"/><rect x="261" y="226" width="17" height="9" fill="#ffa000"/><rect x="277" y="226" width="9" height="9" fill="#ff9c00"/><rect x="285" y="226" width="49" height="9" fill="#ff9800"/><rect x="333" y="226" width="17" height="9" fill="#ff9400"/><rect x="349" y="226" width="25" height="9" fill="#ff9000"/><rect x="373" y="226" width="33" height="9" fill="#ff8c00"/><rect x="405" y="226" width="41" height="9" fill="#ff8800"/><rect x="445" y="226" width="25" height="9" fill="#ff8c00"/><rect x="469" y="226" width="9" height="9" fill="#ff8800"/><rect x="477" y="226" width="9" height="9" fill="#ff8400"/><rect x="485" y="226" width="9" height="9" fill="#ff8000"/><rect x="493" y="226" width="9" height="9" fill="#ff7c00"/><rect x="501" y="226" width="9" height="9" fill="#ff7400"/><rect x="509" y="226" width="9" height="9" fill="#ff7000"/><rect x="517" y="226" width="9" height="9" fill="#ff6c00"/><rect x="525" y="226" width="9" height="9" fill="#ff6800"/><rect x="533" y="226" width="9" height="9" fill="#ff6400"/><rect x="541" y="226" width="25" height="9" fill="#ff6000"/><rect x="101" y="234" width="25" height="9" fill="#ff7000"/><rect x="125" y="234" width="9" height="9" fill="#ff6c00"/><rect x="133" y="234" width="9" height="9" fill="#ff6800"/><rect x="141" y="234" width="9" height="9" fill="#ff6400"/><rect x="149" y="234" width="17" height="9" fill="#ff5c00"/><rect x="165" y="234" width="9" height="9" fill="#ff6400"/><rect x="173" y="234" width="9" height="9" fill="#ff6c00"/><rect x="181" y="234" width="9" height="9" fill="#ff7400"/><rect x="189" y="234" width="9" height="9" fill="#ff7800"/><rect x="197" y="234" width="9" height="9" fill="#ff8000"/><rect x="205" y="234" width="9" height="9" fill="#ff8400"/><rect x="213" y="234" width="17" height="9" fill="#ff8800"/><rect x="229" y="234" width="17" height="9" fill="#ff8c00"/><rect x="245" y="234" width="9" height="9" fill="#ff9000"/><rect x="253" y="234" width="9" height="9" fill="#ff9800"/><rect x="261" y="234" width="17" height="9" fill="#ff9c00"/><rect x="277" y="234" width="9" height="9" fill="#ff9800"/><rect x="285" y="234" width="33" height="9" fill="#ff9400"/><rect x="317" y="234" width="9" height="9" fill="#ff9800"/><rect x="325" y="234" width="9" height="9" fill="#ff9400"/><rect x="333" y="234" width="9" height="9" fill="#ff9000"/><rect x="341" y="234" width="17" height="9" fill="#ff8800"/><rect x="357" y="234" width="49" height="9" fill="#ff8400"/><rect x="405" y="234" width="33" height="9" fill="#ff8000"/><rect x="437" y="234" width="17" height="9" fill="#ff8400"/><rect x="453" y="234" width="25" height="9" fill="#ff8800"/><rect x="477" y="234" width="9" height="9" fill="#ff8400"/><rect x="485" y="234" width="9" height="9" fill="#ff8000"/><rect x="493" y="234" width="9" height="9" fill="#ff7800"/><rect x="501" y="234" width="9" height="9" fill="#ff7400"/><rect x="509" y="234" width="9" height="9" fill="#ff7000"/><rect x="517" y="234" width="9" height="9" fill="#ff6800"/><rect x="525" y="234" width="17" height="9" fill="#ff6400"/><rect x="541" y="234" width="25" height="9" fill="#ff6000"/><rect x="101" y="242" width="33" height="9" fill="#ff7000"/><rect x="133" y="242" width="9" height="9" fill="#ff6c00"/><rect x="141" y="242" width="9" height="9" fill="#ff6400"/><rect x="149" y="242" width="17" height="9" fill="#ff6000"/><rect x="165" y="242" width="9" height="9" fill="#ff6400"/><rect x="173" y="242" width="9" height="9" fill="#ff6c00"/><rect x="181" y="242" width="9" height="9" fill="#ff7400"/><rect x="189" y="242" width="9" height="9" fill="#ff7800"/><rect x="197" y="242" width="9" height="9" fill="#ff8000"/><rect x="205" y="242" width="9" height="9" fill="#ff8400"/><rect x="213" y="242" width="25" height="9" fill="#ff8800"/><rect x="237" y="242" width="9" height="9" fill="#ff8c00"/><rect x="245" y="242" width="9" height="9" fill="#ff9000"/><rect x="253" y="242" width="9" height="9" fill="#ff9400"/><rect x="261" y="242" width="17" height="9" fill="#ff9800"/><rect x="277" y="242" width="9" height="9" fill="#ff9400"/><rect x="285" y="242" width="33" height="9" fill="#ff9000"/><rect x="317" y="242" width="9" height="9" fill="#ff9400"/><rect x="325" y="242" width="9" height="9" fill="#ff8c00"/><rect x="333" y="242" width="9" height="9" fill="#ff8800"/><rect x="341" y="242" width="9" height="9" fill="#ff8000"/><rect x="349" y="242" width="9" height="9" fill="#ff7c00"/><rect x="357" y="242" width="57" height="9" fill="#ff7800"/><rect x="413" y="242" width="17" height="9" fill="#ff7400"/><rect x="429" y="242" width="9" height="9" fill="#ff7800"/><rect x="437" y="242" width="9" height="9" fill="#ff7c00"/><rect x="445" y="242" width="9" height="9" fill="#ff8000"/><rect x="453" y="242" width="33" height="9" fill="#ff8400"/><rect x="485" y="242" width="9" height="9" fill="#ff8000"/><rect x="493" y="242" width="9" height="9" fill="#ff7800"/><rect x="501" y="242" width="9" height="9" fill="#ff7400"/><rect x="509" y="242" width="9" height="9" fill="#ff6c00"/><rect x="517" y="242" width="9" height="9" fill="#ff6800"/><rect x="525" y="242" width="9" height="9" fill="#ff6400"/><rect x="533" y="242" width="33" height="9" fill="#ff6000"/><rect x="101" y="250" width="33" height="9" fill="#ff7000"/><rect x="133" y="250" width="9" height="9" fill="#ff6c00"/><rect x="141" y="250" width="9" height="9" fill="#ff6800"/><rect x="149" y="250" width="17" height="9" fill="#ff6400"/><rect x="165" y="250" width="9" height="9" fill="#ff6800"/><rect x="173" y="250" width="9" height="9" fill="#ff6c00"/><rect x="181" y="250" width="9" height="9" fill="#ff7400"/><rect x="189" y="250" width="9" height="9" fill="#ff7c00"/><rect x="197" y="250" width="9" height="9" fill="#ff8000"/><rect x="205" y="250" width="9" height="9" fill="#ff8400"/><rect x="213" y="250" width="25" height="9" fill="#ff8800"/><rect x="237" y="250" width="17" height="9" fill="#ff8c00"/><rect x="253" y="250" width="33" height="9" fill="#ff9000"/><rect x="285" y="250" width="9" height="9" fill="#ff8c00"/><rect x="293" y="250" width="33" height="9" fill="#ff8800"/><rect x="325" y="250" width="9" height="9" fill="#ff8400"/><rect x="333" y="250" width="9" height="9" fill="#ff7c00"/><rect x="341" y="250" width="9" height="9" fill="#ff7400"/><rect x="349" y="250" width="9" height="9" fill="#ff7000"/><rect x="357" y="250" width="73" height="9" fill="#ff6c00"/><rect x="429" y="250" width="9" height="9" fill="#ff7000"/><rect x="437" y="250" width="9" height="9" fill="#ff7400"/><rect x="445" y="250" width="9" height="9" fill="#ff7800"/><rect x="453" y="250" width="9" height="9" fill="#ff8000"/><rect x="461" y="250" width="25" height="9" fill="#ff8400"/><rect x="485" y="250" width="9" height="9" fill="#ff8000"/><rect x="493" y="250" width="9" height="9" fill="#ff7c00"/><rect x="501" y="250" width="9" height="9" fill="#ff7400"/><rect x="509" y="250" width="9" height="9" fill="#ff6c00"/><rect x="517" y="250" width="9" height="9" fill="#ff6800"/><rect x="525" y="250" width="9" height="9" fill="#ff6400"/><rect x="533" y="250" width="33" height="9" fill="#ff6000"/><rect x="101" y="258" width="17" height="9" fill="#ff7400"/><rect x="117" y="258" width="17" height="9" fill="#ff7000"/><rect x="133" y="258" width="9" height="9" fill="#ff6c00"/><rect x="141" y="258" width="25" height="9" fill="#ff6800"/><rect x="165" y="258" width="9" height="9" fill="#ff6c00"/><rect x="173" y="258" width="9" height="9" fill="#ff7000"/><rect x="181" y="258" width="9" height="9" fill="#ff7800"/><rect x="189" y="258" width="9" height="9" fill="#ff7c00"/><rect x="197" y="258" width="9" height="9" fill="#ff8000"/><rect x="205" y="258" width="17" height="9" fill="#ff8400"/><rect x="221" y="258" width="17" height="9" fill="#ff8800"/><rect x="237" y="258" width="17" height="9" fill="#ff8c00"/><rect x="253" y="258" width="17" height="9" fill="#ff9000"/><rect x="269" y="258" width="9" height="9" fill="#ff8c00"/><rect x="277" y="258" width="9" height="9" fill="#ff8800"/><rect x="285" y="258" width="9" height="9" fill="#ff8400"/><rect x="293" y="258" width="17" height="9" fill="#ff8000"/><rect x="309" y="258" width="17" height="9" fill="#ff7c00"/><rect x="325" y="258" width="9" height="9" fill="#ff7400"/><rect x="333" y="258" width="9" height="9" fill="#ff6c00"/><rect x="341" y="258" width="9" height="9" fill="#ff6800"/><rect x="349" y="258" width="9" height="9" fill="#ff6400"/><rect x="357" y="258" width="49" height="9" fill="#ff6000"/><rect x="405" y="258" width="25" height="9" fill="#ff6400"/><rect x="429" y="258" width="9" height="9" fill="#ff6c00"/><rect x="437" y="258" width="9" height="9" fill="#ff7000"/><rect x="445" y="258" width="9" height="9" fill="#ff7800"/><rect x="453" y="258" width="9" height="9" fill="#ff7c00"/><rect x="461" y="258" width="25" height="9" fill="#ff8400"/><rect x="485" y="258" width="9" height="9" fill="#ff8000"/><rect x="493" y="258" width="9" height="9" fill="#ff7c00"/><rect x="501" y="258" width="9" height="9" fill="#ff7400"/><rect x="509" y="258" width="9" height="9" fill="#ff6c00"/><rect x="517" y="258" width="9" height="9" fill="#ff6800"/><rect x="525" y="258" width="41" height="9" fill="#ff6000"/><rect x="101" y="266" width="25" height="9" fill="#ff7400"/><rect x="125" y="266" width="17" height="9" fill="#ff7000"/><rect x="141" y="266" width="25" height="9" fill="#ff6c00"/><rect x="165" y="266" width="9" height="9" fill="#ff7000"/><rect x="173" y="266" width="9" height="9" fill="#ff7800"/><rect x="181" y="266" width="9" height="9" fill="#ff7c00"/><rect x="189" y="266" width="17" height="9" fill="#ff8000"/><rect x="205" y="266" width="17" height="9" fill="#ff8400"/><rect x="221" y="266" width="25" height="9" fill="#ff8800"/><rect x="245" y="266" width="25" height="9" fill="#ff8c00"/><rect x="269" y="266" width="9" height="9" fill="#ff8800"/><rect x="277" y="266" width="9" height="9" fill="#ff8400"/><rect x="285" y="266" width="9" height="9" fill="#ff7c00"/><rect x="293" y="266" width="9" height="9" fill="#ff7800"/><rect x="301" y="266" width="9" height="9" fill="#ff7400"/><rect x="309" y="266" width="9" height="9" fill="#ff7000"/><rect x="317" y="266" width="9" height="9" fill="#ff6c00"/><rect x="325" y="266" width="9" height="9" fill="#ff6800"/><rect x="333" y="266" width="9" height="9" fill="#ff6000"/><rect x="341" y="266" width="17" height="9" fill="#ff5c00"/><rect x="357" y="266" width="25" height="9" fill="#ff5800"/><rect x="381" y="266" width="25" height="9" fill="#ff5c00"/><rect x="405" y="266" width="17" height="9" fill="#ff6000"/><rect x="421" y="266" width="9" height="9" fill="#ff6400"/><rect x="429" y="266" width="9" height="9" fill="#ff6800"/><rect x="437" y="266" width="9" height="9" fill="#ff7000"/><rect x="445" y="266" width="9" height="9" fill="#ff7800"/><rect x="453" y="266" width="9" height="9" fill="#ff8000"/><rect x="461" y="266" width="33" height="9" fill="#ff8400"/><rect x="493" y="266" width="9" height="9" fill="#ff7c00"/><rect x="501" y="266" width="9" height="9" fill="#ff7800"/><rect x="509" y="266" width="9" height="9" fill="#ff7000"/><rect x="517" y="266" width="9" height="9" fill="#ff6800"/><rect x="525" y="266" width="41" height="9" fill="#ff6000"/><rect x="101" y="274" width="41" height="9" fill="#ff7400"/><rect x="141" y="274" width="17" height="9" fill="#ff7000"/><rect x="157" y="274" width="9" height="9" fill="#ff7400"/><rect x="165" y="274" width="9" height="9" fill="#ff7800"/><rect x="173" y="274" width="9" height="9" fill="#ff7c00"/><rect x="181" y="274" width="17" height="9" fill="#ff8000"/><rect x="197" y="274" width="25" height="9" fill="#ff8400"/><rect x="221" y="274" width="17" height="9" fill="#ff8800"/><rect x="237" y="274" width="33" height="9" fill="#ff8c00"/><rect x="269" y="274" width="9" height="9" fill="#ff8400"/><rect x="277" y="274" width="9" height="9" fill="#ff8000"/><rect x="285" y="274" width="9" height="9" fill="#ff7800"/><rect x="293" y="274" width="9" height="9" fill="#ff7000"/><rect x="301" y="274" width="9" height="9" fill="#ff6c00"/><rect x="309" y="274" width="9" height="9" fill="#ff6400"/><rect x="317" y="274" width="9" height="9" fill="#ff6000"/><rect x="325" y="274" width="9" height="9" fill="#ff5c00"/><rect x="333" y="274" width="49" height="9" fill="#ff5800"/><rect x="381" y="274" width="17" height="9" fill="#ff5c00"/><rect x="397" y="274" width="17" height="9" fill="#ff6000"/><rect x="413" y="274" width="9" height="9" fill="#ff6400"/><rect x="421" y="274" width="9" height="9" fill="#ff6800"/><rect x="429" y="274" width="9" height="9" fill="#ff6c00"/><rect x="437" y="274" width="9" height="9" fill="#ff7400"/><rect x="445" y="274" width="9" height="9" fill="#ff7c00"/><rect x="453" y="274" width="9" height="9" fill="#ff8000"/><rect x="461" y="274" width="9" height="9" fill="#ff8400"/><rect x="469" y="274" width="17" height="9" fill="#ff8800"/><rect x="485" y="274" width="9" height="9" fill="#ff8400"/><rect x="493" y="274" width="9" height="9" fill="#ff8000"/><rect x="501" y="274" width="9" height="9" fill="#ff7800"/><rect x="509" y="274" width="9" height="9" fill="#ff7000"/><rect x="517" y="274" width="9" height="9" fill="#ff6800"/><rect x="525" y="274" width="41" height="9" fill="#ff6000"/><rect x="101" y="282" width="57" height="9" fill="#ff7400"/><rect x="157" y="282" width="17" height="9" fill="#ff7800"/><rect x="173" y="282" width="9" height="9" fill="#ff7c00"/><rect x="181" y="282" width="17" height="9" fill="#ff8000"/><rect x="197" y="282" width="25" height="9" fill="#ff8400"/><rect x="221" y="282" width="17" height="9" fill="#ff8800"/><rect x="237" y="282" width="9" height="9" fill="#ff8c00"/><rect x="245" y="282" width="17" height="9" fill="#ff9000"/><rect x="261" y="282" width="9" height="9" fill="#ff8c00"/><rect x="269" y="282" width="9" height="9" fill="#ff8400"/><rect x="277" y="282" width="9" height="9" fill="#ff7c00"/><rect x="285" y="282" width="9" height="9" fill="#ff7400"/><rect x="293" y="282" width="9" height="9" fill="#ff6c00"/><rect x="301" y="282" width="9" height="9" fill="#ff6400"/><rect x="309" y="282" width="25" height="9" fill="#ff6000"/><rect x="333" y="282" width="41" height="9" fill="#ff5c00"/><rect x="373" y="282" width="17" height="9" fill="#ff6000"/><rect x="389" y="282" width="17" height="9" fill="#ff6400"/><rect x="405" y="282" width="17" height="9" fill="#ff6800"/><rect x="421" y="282" width="9" height="9" fill="#ff6c00"/><rect x="429" y="282" width="9" height="9" fill="#ff7400"/><rect x="437" y="282" width="9" height="9" fill="#ff7800"/><rect x="445" y="282" width="9" height="9" fill="#ff7c00"/><rect x="453" y="282" width="17" height="9" fill="#ff8400"/><rect x="469" y="282" width="17" height="9" fill="#ff8800"/><rect x="485" y="282" width="9" height="9" fill="#ff8400"/><rect x="493" y="282" width="9" height="9" fill="#ff8000"/><rect x="501" y="282" width="9" height="9" fill="#ff7c00"/><rect x="509" y="282" width="9" height="9" fill="#ff7000"/><rect x="517" y="282" width="9" height="9" fill="#ff6800"/><rect x="525" y="282" width="9" height="9" fill="#ff6400"/><rect x="533" y="282" width="9" height="9" fill="#ff6000"/><rect x="541" y="282" width="25" height="9" fill="#ff6400"/><rect x="101" y="290" width="41" height="9" fill="#ff7400"/><rect x="141" y="290" width="25" height="9" fill="#ff7800"/><rect x="165" y="290" width="17" height="9" fill="#ff7c00"/><rect x="181" y="290" width="17" height="9" fill="#ff8000"/><rect x="197" y="290" width="25" height="9" fill="#ff8400"/><rect x="221" y="290" width="9" height="9" fill="#ff8800"/><rect x="229" y="290" width="17" height="9" fill="#ff8c00"/><rect x="245" y="290" width="17" height="9" fill="#ff9000"/><rect x="261" y="290" width="9" height="9" fill="#ff8c00"/><rect x="269" y="290" width="9" height="9" fill="#ff8400"/><rect x="277" y="290" width="9" height="9" fill="#ff7800"/><rect x="285" y="290" width="9" height="9" fill="#ff7000"/><rect x="293" y="290" width="9" height="9" fill="#ff6800"/><rect x="301" y="290" width="73" height="9" fill="#ff6400"/><rect x="373" y="290" width="17" height="9" fill="#ff6800"/><rect x="389" y="290" width="17" height="9" fill="#ff6c00"/><rect x="405" y="290" width="17" height="9" fill="#ff7000"/><rect x="421" y="290" width="9" height="9" fill="#ff7400"/><rect x="429" y="290" width="9" height="9" fill="#ff7800"/><rect x="437" y="290" width="9" height="9" fill="#ff7c00"/><rect x="445" y="290" width="9" height="9" fill="#ff8000"/><rect x="453" y="290" width="17" height="9" fill="#ff8400"/><rect x="469" y="290" width="9" height="9" fill="#ff8800"/><rect x="477" y="290" width="17" height="9" fill="#ff8400"/><rect x="493" y="290" width="9" height="9" fill="#ff8000"/><rect x="501" y="290" width="9" height="9" fill="#ff7800"/><rect x="509" y="290" width="9" height="9" fill="#ff7000"/><rect x="517" y="290" width="9" height="9" fill="#ff6800"/><rect x="525" y="290" width="41" height="9" fill="#ff6400"/><rect x="101" y="298" width="17" height="9" fill="#ff7000"/><rect x="117" y="298" width="25" height="9" fill="#ff7400"/><rect x="141" y="298" width="17" height="9" fill="#ff7800"/><rect x="157" y="298" width="25" height="9" fill="#ff7c00"/><rect x="181" y="298" width="25" height="9" fill="#ff8000"/><rect x="205" y="298" width="17" height="9" fill="#ff8400"/><rect x="221" y="298" width="9" height="9" fill="#ff8800"/><rect x="229" y="298" width="17" height="9" fill="#ff8c00"/><rect x="245" y="298" width="17" height="9" fill="#ff9000"/><rect x="261" y="298" width="9" height="9" fill="#ff8c00"/><rect x="269" y="298" width="9" height="9" fill="#ff8400"/><rect x="277" y="298" width="9" height="9" fill="#ff7800"/><rect x="285" y="298" width="9" height="9" fill="#ff7000"/><rect x="293" y="298" width="9" height="9" fill="#ff6800"/><rect x="301" y="298" width="9" height="9" fill="#ff6400"/><rect x="309" y="298" width="17" height="9" fill="#ff6800"/><rect x="325" y="298" width="33" height="9" fill="#ff6c00"/><rect x="357" y="298" width="25" height="9" fill="#ff7000"/><rect x="381" y="298" width="25" height="9" fill="#ff7400"/><rect x="405" y="298" width="17" height="9" fill="#ff7800"/><rect x="421" y="298" width="9" height="9" fill="#ff7c00"/><rect x="429" y="298" width="9" height="9" fill="#ff8000"/><rect x="437" y="298" width="17" height="9" fill="#ff8400"/><rect x="453" y="298" width="9" height="9" fill="#ff8800"/><rect x="461" y="298" width="25" height="9" fill="#ff8400"/><rect x="485" y="298" width="9" height="9" fill="#ff8000"/><rect x="493" y="298" width="9" height="9" fill="#ff7c00"/><rect x="501" y="298" width="9" height="9" fill="#ff7400"/><rect x="509" y="298" width="9" height="9" fill="#ff7000"/><rect x="517" y="298" width="9" height="9" fill="#ff6c00"/><rect x="525" y="298" width="9" height="9" fill="#ff6800"/><rect x="533" y="298" width="33" height="9" fill="#ff6400"/><rect x="101" y="306" width="25" height="9" fill="#ff7000"/><rect x="125" y="306" width="17" height="9" fill="#ff7400"/><rect x="141" y="306" width="25" height="9" fill="#ff7800"/><rect x="165" y="306" width="25" height="9" fill="#ff7c00"/><rect x="189" y="306" width="25" height="9" fill="#ff8000"/><rect x="213" y="306" width="9" height="9" fill="#ff8400"/><rect x="221" y="306" width="9" height="9" fill="#ff8800"/><rect x="229" y="306" width="17" height="9" fill="#ff8c00"/><rect x="245" y="306" width="9" height="9" fill="#ff9000"/><rect x="253" y="306" width="9" height="9" fill="#ff8c00"/><rect x="261" y="306" width="9" height="9" fill="#ff8800"/><rect x="269" y="306" width="9" height="9" fill="#ff8000"/><rect x="277" y="306" width="9" height="9" fill="#ff7c00"/><rect x="285" y="306" width="9" height="9" fill="#ff7400"/><rect x="293" y="306" width="25" height="9" fill="#ff6c00"/><rect x="317" y="306" width="17" height="9" fill="#ff7000"/><rect x="333" y="306" width="17" height="9" fill="#ff7400"/><rect x="349" y="306" width="17" height="9" fill="#ff7800"/><rect x="365" y="306" width="41" height="9" fill="#ff7c00"/><rect x="405" y="306" width="17" height="9" fill="#ff8000"/><rect x="421" y="306" width="17" height="9" fill="#ff8400"/><rect x="437" y="306" width="33" height="9" fill="#ff8800"/><rect x="469" y="306" width="9" height="9" fill="#ff8400"/><rect x="477" y="306" width="9" height="9" fill="#ff8000"/><rect x="485" y="306" width="9" height="9" fill="#ff7c00"/><rect x="493" y="306" width="9" height="9" fill="#ff7800"/><rect x="501" y="306" width="9" height="9" fill="#ff7400"/><rect x="509" y="306" width="9" height="9" fill="#ff7000"/><rect x="517" y="306" width="9" height="9" fill="#ff6c00"/><rect x="525" y="306" width="41" height="9" fill="#ff6800"/><rect x="101" y="314" width="17" height="9" fill="#ff6c00"/><rect x="117" y="314" width="17" height="9" fill="#ff7000"/><rect x="133" y="314" width="25" height="9" fill="#ff7400"/><rect x="157" y="314" width="25" height="9" fill="#ff7800"/><rect x="181" y="314" width="17" height="9" fill="#ff7c00"/><rect x="197" y="314" width="17" height="9" fill="#ff8000"/><rect x="213" y="314" width="9" height="9" fill="#ff8400"/><rect x="221" y="314" width="9" height="9" fill="#ff8800"/><rect x="229" y="314" width="17" height="9" fill="#ff8c00"/><rect x="245" y="314" width="9" height="9" fill="#ff9000"/><rect x="253" y="314" width="17" height="9" fill="#ff8c00"/><rect x="269" y="314" width="9" height="9" fill="#ff8400"/><rect x="277" y="314" width="9" height="9" fill="#ff8000"/><rect x="285" y="314" width="9" height="9" fill="#ff7c00"/><rect x="293" y="314" width="33" height="9" fill="#ff7400"/><rect x="325" y="314" width="9" height="9" fill="#ff7800"/><rect x="333" y="314" width="17" height="9" fill="#ff7c00"/><rect x="349" y="314" width="17" height="9" fill="#ff8000"/><rect x="365" y="314" width="41" height="9" fill="#ff8400"/><rect x="405" y="314" width="17" height="9" fill="#ff8800"/><rect x="421" y="314" width="41" height="9" fill="#ff8c00"/><rect x="461" y="314" width="9" height="9" fill="#ff8800"/><rect x="469" y="314" width="17" height="9" fill="#ff8400"/><rect x="485" y="314" width="9" height="9" fill="#ff8000"/><rect x="493" y="314" width="9" height="9" fill="#ff7c00"/><rect x="501" y="314" width="9" height="9" fill="#ff7800"/><rect x="509" y="314" width="9" height="9" fill="#ff7400"/><rect x="517" y="314" width="9" height="9" fill="#ff7000"/><rect x="525" y="314" width="41" height="9" fill="#ff6c00"/><rect x="101" y="322" width="33" height="9" fill="#ff6c00"/><rect x="133" y="322" width="17" height="9" fill="#ff7000"/><rect x="149" y="322" width="25" height="9" fill="#ff7400"/><rect x="173" y="322" width="17" height="9" fill="#ff7800"/><rect x="189" y="322" width="9" height="9" fill="#ff7c00"/><rect x="197" y="322" width="17" height="9" fill="#ff8000"/><rect x="213" y="322" width="9" height="9" fill="#ff8400"/><rect x="221" y="322" width="9" height="9" fill="#ff8800"/><rect x="229" y="322" width="9" height="9" fill="#ff8c00"/><rect x="237" y="322" width="33" height="9" fill="#ff9000"/><rect x="269" y="322" width="9" height="9" fill="#ff8c00"/><rect x="277" y="322" width="9" height="9" fill="#ff8800"/><rect x="285" y="322" width="9" height="9" fill="#ff8400"/><rect x="293" y="322" width="41" height="9" fill="#ff8000"/><rect x="333" y="322" width="17" height="9" fill="#ff8400"/><rect x="349" y="322" width="41" height="9" fill="#ff8800"/><rect x="389" y="322" width="25" height="9" fill="#ff8c00"/><rect x="413" y="322" width="49" height="9" fill="#ff9000"/><rect x="461" y="322" width="9" height="9" fill="#ff8c00"/><rect x="469" y="322" width="17" height="9" fill="#ff8800"/><rect x="485" y="322" width="9" height="9" fill="#ff8400"/><rect x="493" y="322" width="17" height="9" fill="#ff8000"/><rect x="509" y="322" width="9" height="9" fill="#ff7c00"/><rect x="517" y="322" width="9" height="9" fill="#ff7800"/><rect x="525" y="322" width="17" height="9" fill="#ff7400"/><rect x="541" y="322" width="25" height="9" fill="#ff7000"/><rect x="101" y="330" width="33" height="9" fill="#ff6800"/><rect x="133" y="330" width="9" height="9" fill="#ff6c00"/><rect x="141" y="330" width="33" height="9" fill="#ff7000"/><rect x="173" y="330" width="17" height="9" fill="#ff7400"/><rect x="189" y="330" width="9" height="9" fill="#ff7800"/><rect x="197" y="330" width="9" height="9" fill="#ff8000"/><rect x="205" y="330" width="9" height="9" fill="#ff8400"/><rect x="213" y="330" width="9" height="9" fill="#ff8800"/><rect x="221" y="330" width="9" height="9" fill="#ff8c00"/><rect x="229" y="330" width="9" height="9" fill="#ff9000"/><rect x="237" y="330" width="17" height="9" fill="#ff9400"/><rect x="253" y="330" width="9" height="9" fill="#ff9800"/><rect x="261" y="330" width="17" height="9" fill="#ff9400"/><rect x="277" y="330" width="9" height="9" fill="#ff9000"/><rect x="285" y="330" width="17" height="9" fill="#ff8c00"/><rect x="301" y="330" width="33" height="9" fill="#ff8800"/><rect x="333" y="330" width="25" height="9" fill="#ff8c00"/><rect x="357" y="330" width="49" height="9" fill="#ff9000"/><rect x="405" y="330" width="17" height="9" fill="#ff9400"/><rect x="421" y="330" width="25" height="9" fill="#ff9800"/><rect x="445" y="330" width="17" height="9" fill="#ff9400"/><rect x="461" y="330" width="17" height="9" fill="#ff9000"/><rect x="477" y="330" width="33" height="9" fill="#ff8c00"/><rect x="509" y="330" width="9" height="9" fill="#ff8800"/><rect x="517" y="330" width="9" height="9" fill="#ff8400"/><rect x="525" y="330" width="9" height="9" fill="#ff8000"/><rect x="533" y="330" width="9" height="9" fill="#ff7c00"/><rect x="541" y="330" width="25" height="9" fill="#ff7800"/><rect x="101" y="338" width="25" height="9" fill="#ff6400"/><rect x="125" y="338" width="17" height="9" fill="#ff6800"/><rect x="141" y="338" width="41" height="9" fill="#ff6c00"/><rect x="181" y="338" width="9" height="9" fill="#ff7000"/><rect x="189" y="338" width="9" height="9" fill="#ff7800"/><rect x="197" y="338" width="9" height="9" fill="#ff8000"/><rect x="205" y="338" width="9" height="9" fill="#ff8800"/><rect x="213" y="338" width="9" height="9" fill="#ff8c00"/><rect x="221" y="338" width="9" height="9" fill="#ff9000"/><rect x="229" y="338" width="9" height="9" fill="#ff9400"/><rect x="237" y="338" width="9" height="9" fill="#ff9800"/><rect x="245" y="338" width="9" height="9" fill="#ff9c00"/><rect x="253" y="338" width="9" height="9" fill="#ffa000"/><rect x="261" y="338" width="17" height="9" fill="#ff9c00"/><rect x="277" y="338" width="25" height="9" fill="#ff9800"/><rect x="301" y="338" width="105" height="9" fill="#ff9400"/><rect x="405" y="338" width="9" height="9" fill="#ff9800"/><rect x="413" y="338" width="49" height="9" fill="#ff9c00"/><rect x="461" y="338" width="17" height="9" fill="#ff9800"/><rect x="477" y="338" width="9" height="9" fill="#ff9400"/><rect x="485" y="338" width="25" height="9" fill="#ff9800"/><rect x="509" y="338" width="9" height="9" fill="#ff9400"/><rect x="517" y="338" width="9" height="9" fill="#ff9000"/><rect x="525" y="338" width="9" height="9" fill="#ff8800"/><rect x="533" y="338" width="9" height="9" fill="#ff8400"/><rect x="541" y="338" width="25" height="9" fill="#ff8000"/><rect x="101" y="346" width="25" height="9" fill="#ff6000"/><rect x="125" y="346" width="9" height="9" fill="#ff6400"/><rect x="133" y="346" width="17" height="9" fill="#ff6800"/><rect x="149" y="346" width="9" height="9" fill="#ff6c00"/><rect x="157" y="346" width="25" height="9" fill="#ff6800"/><rect x="181" y="346" width="9" height="9" fill="#ff7000"/><rect x="189" y="346" width="9" height="9" fill="#ff7800"/><rect x="197" y="346" width="9" height="9" fill="#ff8400"/><rect x="205" y="346" width="9" height="9" fill="#ff8c00"/><rect x="213" y="346" width="9" height="9" fill="#ff9400"/><rect x="221" y="346" width="9" height="9" fill="#ff9c00"/><rect x="229" y="346" width="17" height="9" fill="#ffa000"/><rect x="245" y="346" width="9" height="9" fill="#ffa400"/><rect x="253" y="346" width="17" height="9" fill="#ffa800"/><rect x="269" y="346" width="17" height="9" fill="#ffa400"/><rect x="285" y="346" width="25" height="9" fill="#ffa000"/><rect x="309" y="346" width="25" height="9" fill="#ff9c00"/><rect x="333" y="346" width="65" height="9" fill="#ff9800"/><rect x="397" y="346" width="9" height="9" fill="#ff9c00"/><rect x="405" y="346" width="9" height="9" fill="#ffa000"/><rect x="413" y="346" width="49" height="9" fill="#ffa400"/><rect x="461" y="346" width="25" height="9" fill="#ffa000"/><rect x="485" y="346" width="25" height="9" fill="#ffa400"/><rect x="509" y="346" width="9" height="9" fill="#ffa000"/><rect x="517" y="346" width="9" height="9" fill="#ff9c00"/><rect x="525" y="346" width="9" height="9" fill="#ff9400"/><rect x="533" y="346" width="9" height="9" fill="#ff9000"/><rect x="541" y="346" width="25" height="9" fill="#ff8c00"/><rect x="101" y="354" width="33" height="9" fill="#ff6000"/><rect x="133" y="354" width="25" height="9" fill="#ff6400"/><rect x="157" y="354" width="17" height="9" fill="#ff6000"/><rect x="173" y="354" width="9" height="9" fill="#ff6400"/><rect x="181" y="354" width="9" height="9" fill="#ff6c00"/><rect x="189" y="354" width="9" height="9" fill="#ff7800"/><rect x="197" y="354" width="9" height="9" fill="#ff8800"/><rect x="205" y="354" width="9" height="9" fill="#ff9400"/><rect x="213" y="354" width="9" height="9" fill="#ff9c00"/><rect x="221" y="354" width="9" height="9" fill="#ffa400"/><rect x="229" y="354" width="9" height="9" fill="#ffa800"/><rect x="237" y="354" width="25" height="9" fill="#ffb000"/><rect x="261" y="354" width="17" height="9" fill="#ffac00"/><rect x="277" y="354" width="33" height="9" fill="#ffa800"/><rect x="309" y="354" width="25" height="9" fill="#ffa400"/><rect x="333" y="354" width="9" height="9" fill="#ffa000"/><rect x="341" y="354" width="41" height="9" fill="#ff9c00"/><rect x="381" y="354" width="17" height="9" fill="#ffa000"/><rect x="397" y="354" width="9" height="9" fill="#ffa400"/><rect x="405" y="354" width="9" height="9" fill="#ffa800"/><rect x="413" y="354" width="17" height="9" fill="#ffac00"/><rect x="429" y="354" width="25" height="9" fill="#ffb000"/><rect x="453" y="354" width="33" height="9" fill="#ffac00"/><rect x="485" y="354" width="33" height="9" fill="#ffb000"/><rect x="517" y="354" width="9" height="9" fill="#ffa800"/><rect x="525" y="354" width="9" height="9" fill="#ffa400"/><rect x="533" y="354" width="9" height="9" fill="#ffa000"/><rect x="541" y="354" width="25" height="9" fill="#ff9c00"/><rect x="101" y="362" width="49" height="9" fill="#ff6000"/><rect x="149" y="362" width="9" height="9" fill="#ff5c00"/><rect x="157" y="362" width="17" height="9" fill="#ff5800"/><rect x="173" y="362" width="9" height="9" fill="#ff5c00"/><rect x="181" y="362" width="9" height="9" fill="#ff6400"/><rect x="189" y="362" width="9" height="9" fill="#ff7400"/><rect x="197" y="362" width="9" height="9" fill="#ff8400"/><rect x="205" y="362" width="9" height="9" fill="#ff9400"/><rect x="213" y="362" width="9" height="9" fill="#ffa400"/><rect x="221" y="362" width="9" height="9" fill="#ffac00"/><rect x="229" y="362" width="9" height="9" fill="#ffb000"/><rect x="237" y="362" width="9" height="9" fill="#ffb800"/><rect x="245" y="362" width="9" height="9" fill="#ffbc00"/><rect x="253" y="362" width="9" height="9" fill="#ffb400"/><rect x="261" y="362" width="9" height="9" fill="#ffb000"/><rect x="269" y="362" width="25" height="9" fill="#ffac00"/><rect x="293" y="362" width="17" height="9" fill="#ffb000"/><rect x="309" y="362" width="17" height="9" fill="#ffac00"/><rect x="325" y="362" width="17" height="9" fill="#ffa800"/><rect x="341" y="362" width="9" height="9" fill="#ffa000"/><rect x="349" y="362" width="17" height="9" fill="#ff9c00"/><rect x="365" y="362" width="9" height="9" fill="#ffa000"/><rect x="373" y="362" width="9" height="9" fill="#ffa400"/><rect x="381" y="362" width="9" height="9" fill="#ffa800"/><rect x="389" y="362" width="17" height="9" fill="#ffac00"/><rect x="405" y="362" width="9" height="9" fill="#ffb000"/><rect x="413" y="362" width="17" height="9" fill="#ffb400"/><rect x="429" y="362" width="41" height="9" fill="#ffb800"/><rect x="469" y="362" width="17" height="9" fill="#ffbc00"/><rect x="485" y="362" width="25" height="9" fill="#ffc000"/><rect x="509" y="362" width="9" height="9" fill="#ffbc00"/><rect x="517" y="362" width="9" height="9" fill="#ffb800"/><rect x="525" y="362" width="9" height="9" fill="#ffb400"/><rect x="533" y="362" width="9" height="9" fill="#ffb000"/><rect x="541" y="362" width="25" height="9" fill="#ffac00"/><rect x="101" y="370" width="33" height="9" fill="#ff6000"/><rect x="133" y="370" width="9" height="9" fill="#ff5c00"/><rect x="141" y="370" width="9" height="9" fill="#ff5800"/><rect x="149" y="370" width="9" height="9" fill="#ff5400"/><rect x="157" y="370" width="17" height="9" fill="#ff4c00"/><rect x="173" y="370" width="9" height="9" fill="#ff5000"/><rect x="181" y="370" width="9" height="9" fill="#ff5800"/><rect x="189" y="370" width="9" height="9" fill="#ff6800"/><rect x="197" y="370" width="9" height="9" fill="#ff7800"/><rect x="205" y="370" width="9" height="9" fill="#ff9000"/><rect x="213" y="370" width="9" height="9" fill="#ffa400"/><rect x="221" y="370" width="9" height="9" fill="#ffac00"/><rect x="229" y="370" width="9" height="9" fill="#ffb000"/><rect x="237" y="370" width="17" height="9" fill="#ffb400"/><rect x="253" y="370" width="25" height="9" fill="#ffac00"/><rect x="277" y="370" width="17" height="9" fill="#ffb000"/><rect x="293" y="370" width="41" height="9" fill="#ffb400"/><rect x="333" y="370" width="9" height="9" fill="#ffac00"/><rect x="341" y="370" width="9" height="9" fill="#ffa400"/><rect x="349" y="370" width="9" height="9" fill="#ffa000"/><rect x="357" y="370" width="9" height="9" fill="#ff9c00"/><rect x="365" y="370" width="9" height="9" fill="#ffa000"/><rect x="373" y="370" width="9" height="9" fill="#ffa800"/><rect x="381" y="370" width="9" height="9" fill="#ffb000"/><rect x="389" y="370" width="9" height="9" fill="#ffb400"/><rect x="397" y="370" width="17" height="9" fill="#ffb800"/><rect x="413" y="370" width="9" height="9" fill="#ffbc00"/><rect x="421" y="370" width="17" height="9" fill="#ffc000"/><rect x="437" y="370" width="25" height="9" fill="#ffc400"/><rect x="461" y="370" width="17" height="9" fill="#ffc800"/><rect x="477" y="370" width="9" height="9" fill="#ffcc00"/><rect x="485" y="370" width="25" height="9" fill="#ffd000"/><rect x="509" y="370" width="9" height="9" fill="#ffcc00"/><rect x="517" y="370" width="9" height="9" fill="#ffc400"/><rect x="525" y="370" width="17" height="9" fill="#ffc000"/><rect x="541" y="370" width="25" height="9" fill="#ffbc00"/><rect x="101" y="378" width="33" height="9" fill="#ff6000"/><rect x="133" y="378" width="9" height="9" fill="#ff5c00"/><rect x="141" y="378" width="9" height="9" fill="#ff5400"/><rect x="149" y="378" width="9" height="9" fill="#ff4c00"/><rect x="157" y="378" width="9" height="9" fill="#ff4400"/><rect x="165" y="378" width="17" height="9" fill="#ff4000"/><rect x="181" y="378" width="9" height="9" fill="#ff4c00"/><rect x="189" y="378" width="9" height="9" fill="#ff5c00"/><rect x="197" y="378" width="9" height="9" fill="#ff6c00"/><rect x="205" y="378" width="9" height="9" fill="#ff8400"/><rect x="213" y="378" width="9" height="9" fill="#ff9800"/><rect x="221" y="378" width="9" height="9" fill="#ffa400"/><rect x="229" y="378" width="17" height="9" fill="#ffa800"/><rect x="245" y="378" width="9" height="9" fill="#ffa400"/><rect x="253" y="378" width="17" height="9" fill="#ffa000"/><rect x="269" y="378" width="9" height="9" fill="#ffa800"/><rect x="277" y="378" width="9" height="9" fill="#ffb000"/><rect x="285" y="378" width="17" height="9" fill="#ffb800"/><rect x="301" y="378" width="33" height="9" fill="#ffbc00"/><rect x="333" y="378" width="9" height="9" fill="#ffb400"/><rect x="341" y="378" width="9" height="9" fill="#ffa800"/><rect x="349" y="378" width="9" height="9" fill="#ffa000"/><rect x="357" y="378" width="9" height="9" fill="#ff9c00"/><rect x="365" y="378" width="9" height="9" fill="#ffa400"/><rect x="373" y="378" width="9" height="9" fill="#ffac00"/><rect x="381" y="378" width="9" height="9" fill="#ffb800"/><rect x="389" y="378" width="9" height="9" fill="#ffbc00"/><rect x="397" y="378" width="17" height="9" fill="#ffc000"/><rect x="413" y="378" width="9" height="9" fill="#ffc400"/><rect x="421" y="378" width="9" height="9" fill="#ffc800"/><rect x="429" y="378" width="25" height="9" fill="#ffcc00"/><rect x="453" y="378" width="9" height="9" fill="#ffd000"/><rect x="461" y="378" width="9" height="9" fill="#ffd400"/><rect x="469" y="378" width="9" height="9" fill="#ffd800"/><rect x="477" y="378" width="17" height="9" fill="#ffdc00"/><rect x="493" y="378" width="9" height="9" fill="#ffe000"/><rect x="501" y="378" width="9" height="9" fill="#ffdc00"/><rect x="509" y="378" width="9" height="9" fill="#ffd800"/><rect x="517" y="378" width="9" height="9" fill="#ffd400"/><rect x="525" y="378" width="41" height="9" fill="#ffcc00"/><rect x="101" y="386" width="25" height="9" fill="#ff6400"/><rect x="125" y="386" width="9" height="9" fill="#ff6000"/><rect x="133" y="386" width="9" height="9" fill="#ff5c00"/><rect x="141" y="386" width="9" height="9" fill="#ff5400"/><rect x="149" y="386" width="9" height="9" fill="#ff4800"/><rect x="157" y="386" width="9" height="9" fill="#ff3800"/><rect x="165" y="386" width="17" height="9" fill="#ff3000"/><rect x="181" y="386" width="9" height="9" fill="#ff3c00"/><rect x="189" y="386" width="9" height="9" fill="#ff5000"/><rect x="197" y="386" width="9" height="9" fill="#ff6400"/><rect x="205" y="386" width="9" height="9" fill="#ff7800"/><rect x="213" y="386" width="9" height="9" fill="#ff9000"/><rect x="221" y="386" width="9" height="9" fill="#ff9c00"/><rect x="229" y="386" width="9" height="9" fill="#ffa400"/><rect x="237" y="386" width="9" height="9" fill="#ffa000"/><rect x="245" y="386" width="9" height="9" fill="#ff9c00"/><rect x="253" y="386" width="9" height="9" fill="#ff9800"/><rect x="261" y="386" width="9" height="9" fill="#ffa000"/><rect x="269" y="386" width="9" height="9" fill="#ffac00"/><rect x="277" y="386" width="9" height="9" fill="#ffb800"/><rect x="285" y="386" width="9" height="9" fill="#ffbc00"/><rect x="293" y="386" width="41" height="9" fill="#ffc000"/><rect x="333" y="386" width="9" height="9" fill="#ffb800"/><rect x="341" y="386" width="9" height="9" fill="#ffac00"/><rect x="349" y="386" width="9" height="9" fill="#ffa400"/><rect x="357" y="386" width="9" height="9" fill="#ff9c00"/><rect x="365" y="386" width="9" height="9" fill="#ffa400"/><rect x="373" y="386" width="9" height="9" fill="#ffb400"/><rect x="381" y="386" width="9" height="9" fill="#ffc000"/><rect x="389" y="386" width="17" height="9" fill="#ffc400"/><rect x="405" y="386" width="9" height="9" fill="#ffc800"/><rect x="413" y="386" width="9" height="9" fill="#ffcc00"/><rect x="421" y="386" width="9" height="9" fill="#ffd000"/><rect x="429" y="386" width="17" height="9" fill="#ffd400"/><rect x="445" y="386" width="9" height="9" fill="#ffd800"/><rect x="453" y="386" width="9" height="9" fill="#ffdc00"/><rect x="461" y="386" width="9" height="9" fill="#ffe000"/><rect x="469" y="386" width="9" height="9" fill="#ffe400"/><rect x="477" y="386" width="9" height="9" fill="#ffe800"/><rect x="485" y="386" width="17" height="9" fill="#ffec00"/><rect x="501" y="386" width="9" height="9" fill="#ffe800"/><rect x="509" y="386" width="9" height="9" fill="#ffe400"/><rect x="517" y="386" width="9" height="9" fill="#ffe000"/><rect x="525" y="386" width="41" height="9" fill="#ffd800"/><rect x="101" y="394" width="25" height="9" fill="#ff6400"/><rect x="125" y="394" width="17" height="9" fill="#ff6000"/><rect x="141" y="394" width="9" height="9" fill="#ff5800"/><rect x="149" y="394" width="9" height="9" fill="#ff4800"/><rect x="157" y="394" width="9" height="9" fill="#ff3400"/><rect x="165" y="394" width="9" height="9" fill="#ff2000"/><rect x="173" y="394" width="9" height="9" fill="#ff1c00"/><rect x="181" y="394" width="9" height="9" fill="#ff3000"/><rect x="189" y="394" width="9" height="9" fill="#ff4400"/><rect x="197" y="394" width="9" height="9" fill="#ff5800"/><rect x="205" y="394" width="9" height="9" fill="#ff7000"/><rect x="213" y="394" width="9" height="9" fill="#ff8c00"/><rect x="221" y="394" width="9" height="9" fill="#ff9c00"/><rect x="229" y="394" width="33" height="9" fill="#ffa000"/><rect x="261" y="394" width="9" height="9" fill="#ffa800"/><rect x="269" y="394" width="9" height="9" fill="#ffb400"/><rect x="277" y="394" width="9" height="9" fill="#ffc000"/><rect x="285" y="394" width="9" height="9" fill="#ffc400"/><rect x="293" y="394" width="25" height="9" fill="#ffc800"/><rect x="317" y="394" width="9" height="9" fill="#ffc400"/><rect x="325" y="394" width="9" height="9" fill="#ffc000"/><rect x="333" y="394" width="9" height="9" fill="#ffbc00"/><rect x="341" y="394" width="9" height="9" fill="#ffb400"/><rect x="349" y="394" width="9" height="9" fill="#ffac00"/><rect x="357" y="394" width="9" height="9" fill="#ffa800"/><rect x="365" y="394" width="9" height="9" fill="#ffb000"/><rect x="373" y="394" width="9" height="9" fill="#ffb800"/><rect x="381" y="394" width="9" height="9" fill="#ffc400"/><rect x="389" y="394" width="9" height="9" fill="#ffc800"/><rect x="397" y="394" width="9" height="9" fill="#ffcc00"/><rect x="405" y="394" width="9" height="9" fill="#ffd000"/><rect x="413" y="394" width="17" height="9" fill="#ffd400"/><rect x="429" y="394" width="9" height="9" fill="#ffd800"/><rect x="437" y="394" width="9" height="9" fill="#ffdc00"/><rect x="445" y="394" width="9" height="9" fill="#ffe000"/><rect x="453" y="394" width="9" height="9" fill="#ffe400"/><rect x="461" y="394" width="9" height="9" fill="#ffe800"/><rect x="469" y="394" width="9" height="9" fill="#fff000"/><rect x="477" y="394" width="17" height="9" fill="#fff400"/><rect x="493" y="394" width="9" height="9" fill="#fff800"/><rect x="501" y="394" width="9" height="9" fill="#fff400"/><rect x="509" y="394" width="9" height="9" fill="#fff000"/><rect x="517" y="394" width="9" height="9" fill="#ffe800"/><rect x="525" y="394" width="9" height="9" fill="#ffe400"/><rect x="533" y="394" width="9" height="9" fill="#ffe000"/><rect x="541" y="394" width="25" height="9" fill="#ffdc00"/><rect x="101" y="402" width="33" height="9" fill="#ff6400"/><rect x="133" y="402" width="9" height="9" fill="#ff6000"/><rect x="141" y="402" width="9" height="9" fill="#ff5800"/><rect x="149" y="402" width="9" height="9" fill="#ff4800"/><rect x="157" y="402" width="9" height="9" fill="#ff3000"/><rect x="165" y="402" width="17" height="9" fill="#ff1000"/><rect x="181" y="402" width="9" height="9" fill="#ff2800"/><rect x="189" y="402" width="9" height="9" fill="#ff4000"/><rect x="197" y="402" width="9" height="9" fill="#ff5400"/><rect x="205" y="402" width="9" height="9" fill="#ff6c00"/><rect x="213" y="402" width="9" height="9" fill="#ff8400"/><rect x="221" y="402" width="9" height="9" fill="#ff9800"/><rect x="229" y="402" width="9" height="9" fill="#ffa000"/><rect x="237" y="402" width="9" height="9" fill="#ffa400"/><rect x="245" y="402" width="9" height="9" fill="#ffa800"/><rect x="253" y="402" width="9" height="9" fill="#ffac00"/><rect x="261" y="402" width="9" height="9" fill="#ffb400"/><rect x="269" y="402" width="9" height="9" fill="#ffc000"/><rect x="277" y="402" width="9" height="9" fill="#ffc800"/><rect x="285" y="402" width="9" height="9" fill="#ffcc00"/><rect x="293" y="402" width="9" height="9" fill="#ffd000"/><rect x="301" y="402" width="17" height="9" fill="#ffcc00"/><rect x="317" y="402" width="9" height="9" fill="#ffc800"/><rect x="325" y="402" width="17" height="9" fill="#ffc400"/><rect x="341" y="402" width="9" height="9" fill="#ffc000"/><rect x="349" y="402" width="17" height="9" fill="#ffbc00"/><rect x="365" y="402" width="9" height="9" fill="#ffc000"/><rect x="373" y="402" width="9" height="9" fill="#ffc400"/><rect x="381" y="402" width="9" height="9" fill="#ffcc00"/><rect x="389" y="402" width="9" height="9" fill="#ffd000"/><rect x="397" y="402" width="9" height="9" fill="#ffd400"/><rect x="405" y="402" width="17" height="9" fill="#ffd800"/><rect x="421" y="402" width="9" height="9" fill="#ffdc00"/><rect x="429" y="402" width="9" height="9" fill="#ffe000"/><rect x="437" y="402" width="9" height="9" fill="#ffe400"/><rect x="445" y="402" width="9" height="9" fill="#ffe800"/><rect x="453" y="402" width="9" height="9" fill="#ffec00"/><rect x="461" y="402" width="9" height="9" fill="#fff000"/><rect x="469" y="402" width="9" height="9" fill="#fff800"/><rect x="477" y="402" width="17" height="9" fill="#fffc00"/><rect x="493" y="402" width="9" height="9" fill="#ffff00"/><rect x="501" y="402" width="9" height="9" fill="#fffc00"/><rect x="509" y="402" width="9" height="9" fill="#fff800"/><rect x="517" y="402" width="9" height="9" fill="#fff000"/><rect x="525" y="402" width="9" height="9" fill="#ffec00"/><rect x="533" y="402" width="9" height="9" fill="#ffe400"/><rect x="541" y="402" width="25" height="9" fill="#ffe000"/><rect x="101" y="410" width="41" height="9" fill="#ff6000"/><rect x="141" y="410" width="9" height="9" fill="#ff5400"/><rect x="149" y="410" width="9" height="9" fill="#ff4400"/><rect x="157" y="410" width="9" height="9" fill="#ff2c00"/><rect x="165" y="410" width="17" height="9" fill="#ff1000"/><rect x="181" y="410" width="9" height="9" fill="#ff2800"/><rect x="189" y="410" width="9" height="9" fill="#ff4000"/><rect x="197" y="410" width="9" height="9" fill="#ff5000"/><rect x="205" y="410" width="9" height="9" fill="#ff6800"/><rect x="213" y="410" width="9" height="9" fill="#ff8000"/><rect x="221" y="410" width="9" height="9" fill="#ff9400"/><rect x="229" y="410" width="9" height="9" fill="#ffa000"/><rect x="237" y="410" width="9" height="9" fill="#ffa400"/><rect x="245" y="410" width="9" height="9" fill="#ffac00"/><rect x="253" y="410" width="9" height="9" fill="#ffb400"/><rect x="261" y="410" width="9" height="9" fill="#ffbc00"/><rect x="269" y="410" width="9" height="9" fill="#ffc800"/><rect x="277" y="410" width="9" height="9" fill="#ffd000"/><rect x="285" y="410" width="25" height="9" fill="#ffd400"/><rect x="309" y="410" width="9" height="9" fill="#ffd000"/><rect x="317" y="410" width="17" height="9" fill="#ffcc00"/><rect x="333" y="410" width="33" height="9" fill="#ffc800"/><rect x="365" y="410" width="17" height="9" fill="#ffcc00"/><rect x="381" y="410" width="9" height="9" fill="#ffd000"/><rect x="389" y="410" width="9" height="9" fill="#ffd400"/><rect x="397" y="410" width="9" height="9" fill="#ffd800"/><rect x="405" y="410" width="9" height="9" fill="#ffdc00"/><rect x="413" y="410" width="17" height="9" fill="#ffe000"/><rect x="429" y="410" width="9" height="9" fill="#ffe400"/><rect x="437" y="410" width="9" height="9" fill="#ffe800"/><rect x="445" y="410" width="9" height="9" fill="#ffec00"/><rect x="453" y="410" width="9" height="9" fill="#fff400"/><rect x="461" y="410" width="9" height="9" fill="#fff800"/><rect x="469" y="410" width="9" height="9" fill="#fffc00"/><rect x="477" y="410" width="33" height="9" fill="#ffff00"/><rect x="509" y="410" width="9" height="9" fill="#fffc00"/><rect x="517" y="410" width="9" height="9" fill="#fff800"/><rect x="525" y="410" width="9" height="9" fill="#fff000"/><rect x="533" y="410" width="9" height="9" fill="#ffec00"/><rect x="541" y="410" width="25" height="9" fill="#ffe800"/><rect x="101" y="418" width="41" height="9" fill="#ff6000"/><rect x="141" y="418" width="9" height="9" fill="#ff5400"/><rect x="149" y="418" width="9" height="9" fill="#ff4400"/><rect x="157" y="418" width="9" height="9" fill="#ff2c00"/><rect x="165" y="418" width="17" height="9" fill="#ff1000"/><rect x="181" y="418" width="9" height="9" fill="#ff2800"/><rect x="189" y="418" width="9" height="9" fill="#ff4000"/><rect x="197" y="418" width="9" height="9" fill="#ff5000"/><rect x="205" y="418" width="9" height="9" fill="#ff6800"/><rect x="213" y="418" width="9" height="9" fill="#ff8000"/><rect x="221" y="418" width="9" height="9" fill="#ff9400"/><rect x="229" y="418" width="9" height="9" fill="#ffa000"/><rect x="237" y="418" width="9" height="9" fill="#ffa400"/><rect x="245" y="418" width="9" height="9" fill="#ffac00"/><rect x="253" y="418" width="9" height="9" fill="#ffb400"/><rect x="261" y="418" width="9" height="9" fill="#ffbc00"/><rect x="269" y="418" width="9" height="9" fill="#ffc800"/><rect x="277" y="418" width="9" height="9" fill="#ffd000"/><rect x="285" y="418" width="25" height="9" fill="#ffd400"/><rect x="309" y="418" width="9" height="9" fill="#ffd000"/><rect x="317" y="418" width="17" height="9" fill="#ffcc00"/><rect x="333" y="418" width="33" height="9" fill="#ffc800"/><rect x="365" y="418" width="17" height="9" fill="#ffcc00"/><rect x="381" y="418" width="9" height="9" fill="#ffd000"/><rect x="389" y="418" width="9" height="9" fill="#ffd400"/><rect x="397" y="418" width="9" height="9" fill="#ffd800"/><rect x="405" y="418" width="9" height="9" fill="#ffdc00"/><rect x="413" y="418" width="17" height="9" fill="#ffe000"/><rect x="429" y="418" width="9" height="9" fill="#ffe400"/><rect x="437" y="418" width="9" height="9" fill="#ffe800"/><rect x="445" y="418" width="9" height="9" fill="#ffec00"/><rect x="453" y="418" width="9" height="9" fill="#fff400"/><rect x="461" y="418" width="9" height="9" fill="#fff800"/><rect x="469" y="418" width="9" height="9" fill="#fffc00"/><rect x="477" y="418" width="33" height="9" fill="#ffff00"/><rect x="509" y="418" width="9" height="9" fill="#fffc00"/><rect x="517" y="418" width="9" height="9" fill="#fff800"/><rect x="525" y="418" width="9" height="9" fill="#fff000"/><rect x="533" y="418" width="9" height="9" fill="#ffec00"/><rect x="541" y="418" width="25" height="9" fill="#ffe800"/><rect x="101" y="426" width="41" height="9" fill="#ff6000"/><rect x="141" y="426" width="9" height="9" fill="#ff5400"/><rect x="149" y="426" width="9" height="9" fill="#ff4400"/><rect x="157" y="426" width="9" height="9" fill="#ff2c00"/><rect x="165" y="426" width="17" height="9" fill="#ff1000"/><rect x="181" y="426" width="9" height="9" fill="#ff2800"/><rect x="189" y="426" width="9" height="9" fill="#ff4000"/><rect x="197" y="426" width="9" height="9" fill="#ff5000"/><rect x="205" y="426" width="9" height="9" fill="#ff6800"/><rect x="213" y="426" width="9" height="9" fill="#ff8000"/><rect x="221" y="426" width="9" height="9" fill="#ff9400"/><rect x="229" y="426" width="9" height="9" fill="#ffa000"/><rect x="237" y="426" width="9" height="9" fill="#ffa400"/><rect x="245" y="426" width="9" height="9" fill="#ffac00"/><rect x="253" y="426" width="9" height="9" fill="#ffb400"/><rect x="261" y="426" width="9" height="9" fill="#ffbc00"/><rect x="269" y="426" width="9" height="9" fill="#ffc800"/><rect x="277" y="426" width="9" height="9" fill="#ffd000"/><rect x="285" y="426" width="25" height="9" fill="#ffd400"/><rect x="309" y="426" width="9" height="9" fill="#ffd000"/><rect x="317" y="426" width="17" height="9" fill="#ffcc00"/><rect x="333" y="426" width="33" height="9" fill="#ffc800"/><rect x="365" y="426" width="17" height="9" fill="#ffcc00"/><rect x="381" y="426" width="9" height="9" fill="#ffd000"/><rect x="389" y="426" width="9" height="9" fill="#ffd400"/><rect x="397" y="426" width="9" height="9" fill="#ffd800"/><rect x="405" y="426" width="9" height="9" fill="#ffdc00"/><rect x="413" y="426" width="17" height="9" fill="#ffe000"/><rect x="429" y="426" width="9" height="9" fill="#ffe400"/><rect x="437" y="426" width="9" height="9" fill="#ffe800"/><rect x="445" y="426" width="9" height="9" fill="#ffec00"/><rect x="453" y="426" width="9" height="9" fill="#fff400"/><rect x="461" y="426" width="9" height="9" fill="#fff800"/><rect x="469" y="426" width="9" height="9" fill="#fffc00"/><rect x="477" y="426" width="33" height="9" fill="#ffff00"/><rect x="509" y="426" width="9" height="9" fill="#fffc00"/><rect x="517" y="426" width="9" height="9" fill="#fff800"/><rect x="525" y="426" width="9" height="9" fill="#fff000"/><rect x="533" y="426" width="9" height="9" fill="#ffec00"/><rect x="541" y="426" width="25" height="9" fill="#ffe800"/></g>
<g stroke="#000" stroke-width="1" fill="none" shape-rendering="crispEdges"><g stroke-dasharray="2 2.6"><line x1="124.07" y1="74" x2="117.21" y2="412"/><line x1="182.99" y1="74" x2="178.09" y2="412"/><line x1="241.92" y1="74" x2="238.97" y2="412"/><line x1="300.84" y1="74" x2="299.86" y2="412"/><line x1="359.76" y1="74" x2="360.74" y2="412"/><line x1="418.68" y1="74" x2="421.63" y2="412"/><line x1="477.61" y1="74" x2="482.51" y2="412"/><line x1="536.53" y1="74" x2="543.39" y2="412"/></g><g stroke-dasharray="2.4 2.2"><path d="M117 396.40Q330.3 398.80 543 396.40"/><path d="M117 334.88Q330.3 337.28 543 334.88"/><path d="M117 273.36Q330.3 275.76 543 273.36"/><path d="M117 211.84Q330.3 214.24 543 211.84"/><path d="M117 150.32Q330.3 152.72 543 150.32"/><path d="M117 88.80Q330.3 91.20 543 88.80"/></g></g>
<g fill="none" stroke="#c4c4c4" stroke-width="1.1" stroke-linejoin="round"><path d="M133.4 94.1L139.0 97.2L145.2 99.8L151.5 101.6L156.5 103.5L162.1 106.0L162.1 111.0L163.4 115.4L161.5 117.2L154.6 117.9L152.1 123.5L150.9 127.2L152.1 131.0L151.5 134.8L147.8 137.2L145.9 139.8L147.1 141.6"/><path d="M165.2 112.2L170.2 113.5L176.5 115.4L184.0 116.0L189.0 115.4L192.8 114.1"/><path d="M163.0 111.5L165.2 112.2L165.9 117.2L167.8 122.2L167.1 126.0L169.0 127.9L172.8 128.5"/><path d="M176.5 116.0L174.0 119.8L167.8 122.2"/><path d="M175.2 126.0L179.0 124.8L182.1 126.0L184.0 129.1L187.8 132.9L185.2 136.0L182.1 138.5L180.9 136.0L177.8 132.2L175.9 129.1L172.8 129.1"/><path d="M165.2 129.8L166.5 134.8L167.8 138.5L166.5 141.6L164.6 142.9"/><path d="M117.0 112.9L122.8 114.1L125.9 117.2L127.1 119.8L132.8 115.4L135.9 111.0L137.1 110.4"/><path d="M180.0 115.4L187.5 114.8L192.5 113.5"/><path d="M181.2 124.8L185.0 128.5L188.1 132.2L185.6 136.0"/><path d="M200.6 124.1L198.8 126.0L198.8 130.4L201.2 134.8L202.5 137.2"/><path d="M218.1 127.2L220.0 132.2L221.9 137.2L223.1 139.8"/><path d="M396.0 408.8L401.0 406.2L406.0 403.1L408.5 405.0L407.9 410.0L408.5 411.9"/><path d="M411.0 405.0L414.8 410.0L418.5 409.4L422.2 407.5L426.0 405.0L427.2 408.8L429.1 410.0"/><path d="M433.5 411.9L436.0 406.2L434.8 403.8"/><path d="M374.4 388.9L376.9 387.0L382.5 385.1L385.6 387.6L388.1 392.0L390.6 394.5"/><path d="M410.0 402.0L405.0 404.5L400.0 407.6L395.0 409.5L388.8 410.1L386.2 412.0"/><path d="M339.4 392.0L341.2 397.6L343.8 400.8L345.6 405.8L348.8 409.5L351.9 410.1"/><path d="M177.8 352.0L178.4 361.0L175.2 365.4L174.0 369.8L170.9 373.5L168.4 376.6"/><path d="M194.0 375.4L190.2 377.2L186.5 381.0L182.8 384.8L180.2 388.5L182.1 392.2L183.4 397.2L184.0 402.2L182.1 406.0L179.0 408.5L176.5 411.0"/><path d="M117.0 362.9L119.6 362.2L122.8 364.8L124.0 366.0"/><path d="M117.0 387.9L119.6 390.4L121.5 391.6"/><path d="M186.0 381.2L191.0 376.2L198.5 375.0L204.8 376.2L211.0 373.8L217.2 370.0L223.5 368.8L228.5 364.4"/><path d="M199.1 386.2L202.2 392.5L206.0 397.5L209.1 401.2L209.8 406.2L211.6 411.2"/><path d="M203.5 387.5L208.5 383.8L214.8 380.0L222.2 378.1L229.8 375.6"/><path d="M241.0 399.4L238.5 403.8L236.0 406.2L234.8 410.0L236.0 411.9"/><path d="M244.1 399.4L247.2 403.1L250.4 406.9L250.4 411.9"/><path d="M254.1 396.2L257.9 394.4L261.0 397.5L266.0 398.8"/><path d="M258.0 399.4L263.0 399.0L266.8 400.0L270.5 401.9L273.0 406.2L272.4 410.0L269.9 411.9"/><path d="M265.5 391.9L269.2 391.2L274.2 393.1L278.0 390.6L284.2 390.0L290.5 390.6L295.5 390.0L298.0 388.1L299.9 385.6"/><path d="M290.5 397.5L293.6 400.0L294.2 403.1L291.8 407.5L288.6 411.2"/><path d="M324.2 394.4L324.9 398.8L326.8 403.1L324.9 407.5L323.6 411.9"/></g><g fill="none" stroke="#000" stroke-width="2" stroke-linejoin="round" stroke-linecap="round" shape-rendering="crispEdges"><path d="M114.0 96.0L117.0 96.0L121.5 96.6L126.5 97.2L130.2 96.6L131.5 94.1L134.0 91.6L139.0 92.2L145.2 92.9L150.2 92.2L152.8 90.4L155.2 91.6L159.0 92.9L161.5 94.8L165.2 96.0L169.0 96.6L172.8 98.5L179.0 100.4L184.0 100.8L186.5 102.2L187.5 107.2L189.8 110.0L193.8 110.8L197.5 109.5L201.9 110.0L205.0 108.5L206.9 110.4L206.9 112.9L204.4 113.5L198.8 113.5L194.4 114.1L193.1 115.4L195.0 117.0L200.0 117.2L205.0 118.5L210.0 120.4L213.8 119.8L217.5 120.4L220.6 122.2L223.1 124.8L226.9 127.9L230.0 130.4L231.2 132.9L230.6 135.4L228.8 137.9L227.5 140.4L223.8 140.4L222.5 142.9L223.1 145.4L223.8 147.2L221.2 147.9L218.8 147.2L218.1 144.8L217.5 141.6L215.6 140.4L211.2 139.1L207.5 137.9L203.8 137.2L200.0 137.9L196.2 138.5L192.5 137.9L189.0 136.9L184.0 137.5L181.5 138.8L179.0 141.9L176.5 143.8L171.5 143.8L167.8 144.4L165.9 143.1L164.0 140.0L162.1 138.1L159.0 140.0L155.9 140.6L154.0 142.5L151.5 141.5L149.0 140.6L145.2 141.2L144.0 141.9L146.5 142.5L149.6 143.1L150.2 146.2L147.8 150.0L144.0 153.8L141.5 157.5L139.6 161.2L138.4 163.1L135.9 163.1L136.5 160.0L134.6 158.1L131.5 157.5L132.8 155.6L130.9 151.9L129.0 148.1L126.5 145.6L124.0 143.8L120.9 143.1L114.0 142.9"/><path d="M130.2 96.6L132.1 99.8L132.1 104.8L130.9 108.5L132.8 111.6L134.0 114.1L132.8 116.6L129.6 118.5L127.1 120.4L125.9 122.2L126.5 123.5L129.0 124.8L130.5 127.2L127.8 129.0L124.3 129.9L120.9 130.8L120.2 132.7L123.0 134.0L125.5 135.5L127.5 137.4L129.3 140.8L130.2 145.0L130.9 148.8L130.9 151.9"/><path d="M265.4 135.6L271.0 136.0L274.8 135.2L281.0 136.2L287.2 136.9L293.5 136.2L297.2 137.2L302.2 137.5L307.2 138.5L311.0 140.0L311.6 143.1L309.8 145.0L307.2 146.2L305.4 149.4L302.2 151.2L298.5 152.2L294.8 152.8L292.2 153.5L288.5 152.8L283.5 152.8L278.5 151.9L273.5 152.8L268.5 153.1L265.4 152.8L264.8 149.4L266.6 145.6L265.4 142.5L262.9 140.6L264.8 138.1Z"/><path d="M422.5 177.5L427.5 176.2L430.0 180.0L426.2 182.5L422.5 181.2Z"/><path d="M425.6 203.1L428.1 201.5L431.2 202.2L433.1 205.0L433.5 209.4L432.2 212.8L429.4 214.0L427.5 211.2L426.2 206.9Z"/><path d="M433.8 198.8L435.6 196.2L437.5 196.9L438.8 200.6L441.2 202.5L444.4 204.4L443.1 205.6L439.4 205.6L436.2 206.5L434.0 205.0L433.5 201.9Z"/><path d="M446.2 203.1L450.6 201.5"/><path d="M429.4 216.9L433.5 215.6"/><path d="M434.4 225.6L436.2 223.5L440.0 224.4L442.2 227.5L442.8 232.5L442.2 236.5L439.4 237.2L437.5 233.8L435.6 229.4Z"/><path d="M442.5 248.1L445.0 246.2L448.8 247.5L452.5 250.0L455.0 253.8L455.6 257.5L456.2 260.0L453.8 261.2L450.0 260.0L446.9 258.8L446.2 255.6L444.4 252.5Z"/><path d="M451.2 270.6L453.5 270.6L454.4 274.4L454.0 279.4L451.9 283.1L449.4 281.9L447.8 278.8L448.5 275.0Z"/><path d="M443.1 293.5L445.6 292.2L447.5 294.1L447.2 297.9L445.6 300.4L443.1 299.8L441.9 297.2Z"/><path d="M429.4 329.1L432.5 327.9L433.5 330.4L431.9 335.4L428.8 336.2L426.9 334.1L427.8 331.0Z"/><path d="M490.6 294.1L493.1 293.5L495.0 296.6L498.1 299.1L498.5 301.6L495.6 302.9L492.5 301.0L491.2 297.9Z"/><path d="M429.1 375.0L433.5 373.8L439.8 373.1L446.0 371.9L451.0 370.6L454.1 370.6L454.1 373.1L451.6 375.0L450.4 378.1L449.8 381.9L451.0 385.6L452.2 389.4L451.6 392.5L448.5 393.8L443.5 394.4L438.5 394.8L433.5 395.0L429.8 395.2L426.0 395.6L422.9 396.2L424.8 394.4L428.5 391.9L432.2 390.0L436.0 388.8L437.2 386.2L436.6 381.9L436.6 378.1L434.8 376.2L431.0 376.2L429.1 375.6Z"/><path d="M355.0 382.0L360.0 378.6L365.0 378.2L370.0 377.6L375.0 377.0L380.0 375.8L385.0 374.5L390.0 374.5L396.0 375.0L399.8 373.8L406.0 374.4L412.2 375.0L418.5 374.8L423.5 373.8L426.0 374.4L424.1 376.2L419.8 377.2L414.8 377.5L412.2 378.1L411.6 380.0L408.5 380.6L403.5 380.0L399.8 379.4L396.0 380.0L390.0 378.2L380.0 377.9L371.2 379.2"/><path d="M390.6 388.9L390.0 384.5L391.2 382.0L394.4 380.9L398.1 381.6L400.6 383.2L402.5 386.4L402.9 390.6L402.2 393.8L399.8 395.6L396.0 395.8L391.2 395.1L390.0 393.9"/><path d="M393.8 383.2L396.2 383.9L398.1 386.4L399.4 389.5L400.0 392.6L398.1 395.1"/><path d="M402.9 390.6L406.0 392.5L408.5 395.0L411.6 396.2L414.8 395.6L417.2 396.9L419.1 398.1L421.0 400.0L426.0 400.6L431.0 399.4L433.5 400.0L437.2 403.1L441.0 406.2L446.0 408.8L451.0 410.6L455.0 413.0"/><path d="M456.0 360.0L458.5 358.1L462.2 356.2L465.4 355.6L466.0 357.5L463.5 359.4L459.8 361.2L457.2 361.9Z"/><path d="M113.0 328.8L117.0 328.8L119.0 326.2L122.8 323.8L126.5 321.2L131.5 320.6L136.5 321.9L140.9 324.4L143.4 328.1L144.6 332.5L142.8 335.6L139.0 338.1L134.6 340.6L130.2 342.5L125.2 344.4L120.9 346.2L119.6 350.0L120.9 355.0L122.0 360.0L124.0 362.9L126.5 365.4L130.2 367.2L135.2 367.9L138.4 366.6L144.0 364.1L150.2 361.0L156.5 359.1L164.0 357.2L169.0 355.5L174.0 353.1L176.5 351.9L177.8 350.0"/><path d="M120.9 346.2L117.0 347.5L113.0 348.0"/><path d="M176.5 350.0L172.8 347.5L170.9 343.8L170.2 338.8L171.5 333.8L174.6 330.6L178.4 329.4L181.5 330.6L183.4 333.8L184.0 338.8L184.0 343.1L185.2 345.6L185.9 348.8L184.0 351.2L180.9 351.2L178.4 349.4L176.5 350.0"/><path d="M172.8 347.5L179.0 345.6L184.0 344.4"/><path d="M185.9 346.2L187.9 349.8L191.0 351.6L195.4 350.4L199.8 349.8L204.1 351.0L208.5 352.9L212.9 353.5L216.6 355.4L220.4 357.9L224.1 360.4L226.6 362.9L228.5 365.4L229.6 368.5L229.3 372.5L230.4 376.9L232.9 380.0L236.0 381.9L241.0 382.5L246.0 381.9L252.2 380.6L258.5 380.0L263.0 379.0L268.0 378.5L274.2 377.8L280.5 377.5L286.8 377.8L290.5 378.8L292.4 378.1L294.9 378.8L298.0 380.0L298.6 383.1L300.5 386.2L304.2 388.1L309.2 390.0L314.2 391.9L319.2 393.1L323.0 393.8L326.8 395.0L330.5 394.4L333.8 393.2L337.5 392.0L338.1 388.9L340.6 388.2L343.8 387.6L346.2 385.8L350.0 385.1L353.1 383.9L355.0 382.0"/><path d="M126.5 368.5L129.0 374.8L129.6 379.1L127.1 382.9L124.6 385.4L122.8 388.5L120.9 391.0L118.4 392.2L113.0 393.5"/><path d="M134.0 369.8L132.1 374.8L131.5 379.1L134.0 382.9L136.5 386.6L139.0 390.4L141.5 394.1L144.0 397.9L145.9 401.6L146.5 405.4L145.2 409.1L144.6 414.0"/><path d="M347.5 365.1L350.0 363.9L353.1 363.9L355.6 365.8L358.1 366.4L360.6 364.5L363.1 360.8L365.0 361.4L366.9 365.1L366.2 367.6L363.1 368.9L360.0 368.9L356.9 368.2L354.4 367.6L350.6 367.6L348.1 367.0Z"/></g><g fill="#000" stroke="#000" stroke-width="1.6" stroke-linejoin="round"><path d="M130.2 133.1L134.0 133.8L137.1 135.6L136.5 136.9L132.8 136.2L130.2 135.0Z"/><path d="M312.2 146.9L321.0 145.6L322.2 147.5L314.8 149.4Z"/><path d="M319.1 140.0L323.5 140.6L323.5 143.1L319.8 143.1Z"/><path d="M328.3 140.0L333.3 137.5L341.7 136.7L348.3 135.3L350.8 135.8L349.2 138.0L345.0 140.0L341.7 141.7L333.3 142.5L329.2 141.3Z"/><path d="M412.5 186.9L414.4 187.2L415.6 190.0L415.2 192.5L413.1 192.5L412.2 189.4Z"/><path d="M446.9 256.0L452.0 256.0L456.2 260.0L453.8 261.2L450.0 260.0L446.9 258.8Z"/><path d="M441.9 304.8L444.4 303.5L446.9 305.4L445.6 309.1L444.4 307.2Z"/><path d="M438.8 316.0L440.0 317.9L438.1 322.9L435.6 322.2L436.9 318.8Z"/><path d="M408.5 395.0L417.2 396.0L419.0 399.0L416.5 403.0L414.0 408.0L410.5 404.0L408.3 399.0Z"/><path d="M419.0 398.0L422.0 400.0L424.0 404.0L421.0 403.0Z"/><path d="M125.5 366.0L135.0 368.3L133.0 372.0L131.0 376.0L129.5 376.0L128.5 372.0Z"/><path d="M176.5 315.6L179.0 316.9L182.1 320.6L182.8 322.5L180.9 321.9L177.8 318.8Z"/><path d="M203.5 323.5L206.0 324.1L208.5 327.2L212.9 329.8L216.6 332.9L217.2 335.4L214.8 334.8L211.0 332.9L207.2 330.4L204.1 326.6Z"/><path d="M226.6 326.0L229.1 325.4L231.0 327.9L233.5 328.5L233.5 332.2L232.9 335.4L230.4 335.4L230.4 331.6L227.9 329.8L226.6 327.9Z"/><path d="M242.9 390.6L245.4 388.8L249.1 389.0L251.6 391.2L251.0 393.8L247.2 394.4L243.5 393.8Z"/><path d="M264.9 400.6L267.4 400.0L270.5 401.9L271.1 403.8L268.6 403.8L266.1 402.5Z"/><path d="M317.4 367.5L320.5 366.9L324.2 367.5L324.9 370.0L321.1 370.6L318.0 369.8Z"/><path d="M271.2 338.8L281.2 337.5L282.5 342.0L275.0 343.0Z"/><path d="M351.2 377.6L355.0 377.0L360.0 377.0L365.0 377.6L367.5 380.1L370.6 382.0L370.0 383.2L366.2 383.2L362.5 382.6L358.8 382.0L355.0 381.4L352.5 380.1Z"/><path d="M347.5 128.8L351.2 129.0L351.2 130.2L347.5 130.0Z"/><path d="M332.5 158.8L337.5 157.5L343.0 158.0L337.5 160.5L333.8 161.2Z"/><path d="M385.0 145.0L390.0 142.0L391.2 143.8L387.5 147.5L388.8 150.0L385.0 150.0Z"/><path d="M393.8 170.0L397.5 170.0L402.5 176.2L401.2 178.8L397.5 175.0Z"/><path d="M389.5 165.8L391.5 166.2L391.8 169.0L390.0 168.5Z"/><path d="M423.8 160.0L427.5 162.5L426.2 166.2L423.8 163.8Z"/><path d="M439.4 213.1L441.9 211.9L444.0 213.5L443.1 216.5L440.6 217.2L439.0 215.2Z"/><path d="M293.8 340.0L297.0 340.0L297.0 342.0L294.0 342.0Z"/><path d="M341.2 338.8L346.2 339.2L346.2 341.2L341.8 341.2Z"/></g><g fill="#000"><circle cx="123.3" cy="122.4" r="2.0"/><circle cx="121.4" cy="132.2" r="2.0"/><circle cx="242.8" cy="148" r="1.9"/><circle cx="244.8" cy="149.3" r="1.3"/><circle cx="256.2" cy="139.8" r="1.1"/><circle cx="221.3" cy="146.8" r="2.0"/><circle cx="377" cy="132.5" r="1.2"/><circle cx="382" cy="142.5" r="1.2"/><circle cx="394" cy="154" r="1.6"/><circle cx="440.6" cy="313.5" r="1.0"/><circle cx="433" cy="326.4" r="1.0"/><circle cx="119.3" cy="327.6" r="2.3"/><circle cx="338.75" cy="389" r="1.9"/><circle cx="298.2" cy="381.5" r="1.8"/><circle cx="229.8" cy="366.5" r="1.6"/><circle cx="249.1" cy="336" r="1.3"/><circle cx="254.5" cy="336.6" r="0.9"/><circle cx="386.5" cy="354.6" r="1.0"/><circle cx="388.2" cy="354.7" r="0.9"/><circle cx="354.4" cy="372" r="1.6"/><circle cx="362.5" cy="373.3" r="2.1"/></g>
</g>
<rect x="115" y="71" width="430" height="3" fill="#fff"/><rect x="115" y="412" width="430" height="3" fill="#fff"/><rect x="115" y="71" width="2" height="344" fill="#fff"/><rect x="543" y="71" width="2" height="344" fill="#fff"/><rect x="124" y="71" width="59" height="3" fill="#000"/><rect x="117" y="412" width="61" height="3" fill="#000"/><rect x="242" y="71" width="59" height="3" fill="#000"/><rect x="239" y="412" width="61" height="3" fill="#000"/><rect x="360" y="71" width="59" height="3" fill="#000"/><rect x="361" y="412" width="61" height="3" fill="#000"/><rect x="478" y="71" width="58" height="3" fill="#000"/><rect x="483" y="412" width="60" height="3" fill="#000"/><rect x="115" y="88" width="2" height="62" fill="#000"/><rect x="543" y="88" width="2" height="62" fill="#000"/><rect x="115" y="212" width="2" height="61" fill="#000"/><rect x="543" y="212" width="2" height="61" fill="#000"/><rect x="115" y="335" width="2" height="61" fill="#000"/><rect x="543" y="335" width="2" height="61" fill="#000"/><rect x="117" y="411.6" width="305" height="1.4" fill="#000"/><rect x="114.5" y="70.5" width="431" height="345" fill="none" stroke="#000" stroke-width="1" shape-rendering="crispEdges"/>
<g font-size="12.8" fill="#000"><text x="124.2" y="68" text-anchor="middle">-72</text><text x="117.1" y="427.5" text-anchor="middle">-72</text><text x="183.1" y="68" text-anchor="middle">-70</text><text x="178.0" y="427.5" text-anchor="middle">-70</text><text x="242.0" y="68" text-anchor="middle">-68</text><text x="238.9" y="427.5" text-anchor="middle">-68</text><text x="300.9" y="68" text-anchor="middle">-66</text><text x="299.8" y="427.5" text-anchor="middle">-66</text><text x="359.8" y="68" text-anchor="middle">-64</text><text x="360.8" y="427.5" text-anchor="middle">-64</text><text x="418.6" y="68" text-anchor="middle">-62</text><text x="421.7" y="427.5" text-anchor="middle">-62</text><text x="477.6" y="68" text-anchor="middle">-60</text><text x="482.6" y="427.5" text-anchor="middle">-60</text><text x="536.5" y="68" text-anchor="middle">-58</text><text x="543.5" y="427.5" text-anchor="middle">-58</text><text transform="translate(110.5,396.4) rotate(-90)" text-anchor="middle">10</text><text transform="translate(549.5,396.4) rotate(90)" text-anchor="middle">10</text><text transform="translate(110.5,334.9) rotate(-90)" text-anchor="middle">12</text><text transform="translate(549.5,334.9) rotate(90)" text-anchor="middle">12</text><text transform="translate(110.5,273.3) rotate(-90)" text-anchor="middle">14</text><text transform="translate(549.5,273.3) rotate(90)" text-anchor="middle">14</text><text transform="translate(110.5,211.8) rotate(-90)" text-anchor="middle">16</text><text transform="translate(549.5,211.8) rotate(90)" text-anchor="middle">16</text><text transform="translate(110.5,150.3) rotate(-90)" text-anchor="middle">18</text><text transform="translate(549.5,150.3) rotate(90)" text-anchor="middle">18</text><text transform="translate(110.5,88.8) rotate(-90)" text-anchor="middle">20</text><text transform="translate(549.5,88.8) rotate(90)" text-anchor="middle">20</text></g>
<defs><linearGradient id="cb" x1="0" y1="0" x2="1" y2="0"><stop offset="0.0000" stop-color="#000000"/><stop offset="0.1429" stop-color="#0000ff"/><stop offset="0.2857" stop-color="#00ffff"/><stop offset="0.4286" stop-color="#00ff00"/><stop offset="0.5714" stop-color="#ffff00"/><stop offset="0.7143" stop-color="#ff0000"/><stop offset="0.8571" stop-color="#ff00ff"/><stop offset="1.0000" stop-color="#ffffff"/></linearGradient></defs><rect x="8" y="442" width="642" height="15" fill="url(#cb)"/><g font-size="17" fill="#000" text-anchor="middle"><text x="9" y="474.5">0</text><text x="116" y="474.5">1</text><text x="223" y="474.5">2</text><text x="330" y="474.5">3</text><text x="437" y="474.5">4</text><text x="544" y="474.5">5</text><text x="651" y="474.5">6</text></g>
<text x="9" y="21" font-size="21.3" fill="#000" textLength="297" lengthAdjust="spacing">DNA-damage UV dose (kJ/m2)</text><text x="9" y="45.5" font-size="17" fill="#0000ff" textLength="99.5" lengthAdjust="spacing">MSR - KNMI</text><text x="560.2" y="21" font-size="21.2" fill="#000" textLength="90.6" lengthAdjust="spacing">Clear-sky</text><text x="521.2" y="45" font-size="21.2" fill="#000" textLength="129.7" lengthAdjust="spacing">22 June 2002</text>
</svg>
</body></html>
